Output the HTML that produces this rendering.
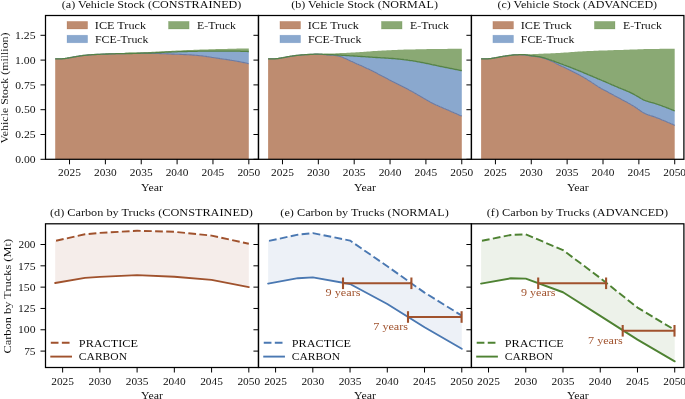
<!DOCTYPE html><html><head><meta charset="utf-8"><style>html,body{margin:0;padding:0;background:#fff;overflow:hidden}svg{display:block}</style></head><body>
<svg width="685" height="399" viewBox="0 0 685 399" font-family="'Liberation Serif', serif" fill="#000">
<style>text{stroke:#fff;stroke-width:0.04px}</style>
<rect width="685" height="399" fill="#fff"/>
<clipPath id="c10"><rect x="45.50" y="15.50" width="213.00" height="143.80"/></clipPath>
<clipPath id="c20"><rect x="45.50" y="223.80" width="213.00" height="143.70"/></clipPath>
<clipPath id="c11"><rect x="258.45" y="15.50" width="213.00" height="143.80"/></clipPath>
<clipPath id="c21"><rect x="258.45" y="223.80" width="213.00" height="143.70"/></clipPath>
<clipPath id="c12"><rect x="471.40" y="15.50" width="213.00" height="143.80"/></clipPath>
<clipPath id="c22"><rect x="471.40" y="223.80" width="213.00" height="143.70"/></clipPath>
<g clip-path="url(#c10)" stroke-width="1.10" stroke-linejoin="round">
<path d="M55.2,58.8 L56.0,58.8 L57.0,58.8 L58.0,58.8 L59.0,58.8 L60.0,58.8 L61.0,58.8 L62.0,58.8 L63.0,58.7 L64.0,58.6 L65.0,58.5 L66.0,58.3 L67.0,58.2 L68.0,58.0 L69.0,57.8 L70.0,57.7 L71.0,57.5 L72.0,57.3 L73.0,57.1 L74.0,56.9 L75.0,56.8 L76.0,56.6 L77.0,56.4 L78.0,56.3 L79.0,56.1 L80.0,55.9 L81.0,55.8 L82.0,55.7 L83.0,55.5 L84.0,55.4 L85.0,55.3 L86.0,55.2 L87.0,55.1 L88.0,55.0 L89.0,54.9 L90.0,54.8 L91.0,54.8 L92.0,54.7 L93.0,54.6 L94.0,54.6 L95.0,54.5 L96.0,54.5 L97.0,54.4 L98.0,54.4 L99.0,54.3 L100.0,54.3 L101.0,54.2 L102.0,54.2 L103.0,54.1 L104.0,54.1 L105.0,54.1 L106.0,54.0 L107.0,54.0 L108.0,54.0 L109.0,53.9 L110.0,53.9 L111.0,53.9 L112.0,53.8 L113.0,53.8 L114.0,53.8 L115.0,53.8 L116.0,53.7 L117.0,53.7 L118.0,53.7 L119.0,53.7 L120.0,53.6 L121.0,53.6 L122.0,53.6 L123.0,53.6 L124.0,53.6 L125.0,53.6 L126.0,53.5 L127.0,53.5 L128.0,53.5 L129.0,53.5 L130.0,53.5 L131.0,53.5 L132.0,53.5 L133.0,53.5 L134.0,53.5 L135.0,53.5 L136.0,53.5 L137.0,53.5 L138.0,53.4 L139.0,53.4 L140.0,53.4 L141.0,53.4 L142.0,53.4 L143.0,53.4 L144.0,53.4 L145.0,53.4 L146.0,53.4 L147.0,53.4 L148.0,53.4 L149.0,53.4 L150.0,53.4 L151.0,53.4 L152.0,53.4 L153.0,53.4 L154.0,53.4 L155.0,53.4 L156.0,53.5 L157.0,53.5 L158.0,53.5 L159.0,53.5 L160.0,53.6 L161.0,53.6 L162.0,53.7 L163.0,53.7 L164.0,53.7 L165.0,53.8 L166.0,53.8 L167.0,53.9 L168.0,53.9 L169.0,54.0 L170.0,54.0 L171.0,54.0 L172.0,54.1 L173.0,54.1 L174.0,54.1 L175.0,54.2 L176.0,54.2 L177.0,54.3 L178.0,54.3 L179.0,54.3 L180.0,54.4 L181.0,54.4 L182.0,54.5 L183.0,54.5 L184.0,54.6 L185.0,54.6 L186.0,54.6 L187.0,54.7 L188.0,54.8 L189.0,54.8 L190.0,54.9 L191.0,54.9 L192.0,55.0 L193.0,55.1 L194.0,55.1 L195.0,55.2 L196.0,55.3 L197.0,55.4 L198.0,55.5 L199.0,55.6 L200.0,55.7 L201.0,55.8 L202.0,55.9 L203.0,56.0 L204.0,56.2 L205.0,56.3 L206.0,56.4 L207.0,56.6 L208.0,56.7 L209.0,56.9 L210.0,57.0 L211.0,57.2 L212.0,57.4 L213.0,57.5 L214.0,57.7 L215.0,57.8 L216.0,58.0 L217.0,58.1 L218.0,58.3 L219.0,58.4 L220.0,58.6 L221.0,58.7 L222.0,58.9 L223.0,59.0 L224.0,59.2 L225.0,59.3 L226.0,59.4 L227.0,59.6 L228.0,59.8 L229.0,59.9 L230.0,60.1 L231.0,60.2 L232.0,60.4 L233.0,60.5 L234.0,60.7 L235.0,60.9 L236.0,61.0 L237.0,61.2 L238.0,61.4 L239.0,61.6 L240.0,61.8 L241.0,62.0 L242.0,62.2 L243.0,62.4 L244.0,62.6 L245.0,62.8 L246.0,63.0 L247.0,63.2 L248.0,63.5 L248.8,63.7 L248.8,159.3 L55.2,159.3 Z" fill="rgb(155,79,35)" fill-opacity="0.65"/>
<path d="M55.2,58.8 L56.0,58.8 L57.0,58.8 L58.0,58.8 L59.0,58.8 L60.0,58.8 L61.0,58.8 L62.0,58.8 L63.0,58.7 L64.0,58.6 L65.0,58.5 L66.0,58.3 L67.0,58.2 L68.0,58.0 L69.0,57.8 L70.0,57.7 L71.0,57.5 L72.0,57.3 L73.0,57.1 L74.0,56.9 L75.0,56.8 L76.0,56.6 L77.0,56.4 L78.0,56.3 L79.0,56.1 L80.0,55.9 L81.0,55.8 L82.0,55.7 L83.0,55.5 L84.0,55.4 L85.0,55.3 L86.0,55.2 L87.0,55.1 L88.0,55.0 L89.0,54.9 L90.0,54.8 L91.0,54.8 L92.0,54.7 L93.0,54.6 L94.0,54.6 L95.0,54.5 L96.0,54.5 L97.0,54.4 L98.0,54.4 L99.0,54.3 L100.0,54.3 L101.0,54.2 L102.0,54.2 L103.0,54.1 L104.0,54.1 L105.0,54.1 L106.0,54.0 L107.0,54.0 L108.0,54.0 L109.0,53.9 L110.0,53.9 L111.0,53.9 L112.0,53.8 L113.0,53.8 L114.0,53.8 L115.0,53.8 L116.0,53.7 L117.0,53.7 L118.0,53.7 L119.0,53.7 L120.0,53.6 L121.0,53.6 L122.0,53.6 L123.0,53.6 L124.0,53.6 L125.0,53.6 L126.0,53.5 L127.0,53.5 L128.0,53.5 L129.0,53.5 L130.0,53.5 L131.0,53.5 L132.0,53.5 L133.0,53.4 L134.0,53.4 L135.0,53.4 L136.0,53.4 L137.0,53.3 L138.0,53.3 L139.0,53.3 L140.0,53.3 L141.0,53.2 L142.0,53.2 L143.0,53.2 L144.0,53.2 L145.0,53.1 L146.0,53.1 L147.0,53.1 L148.0,53.1 L149.0,53.0 L150.0,53.0 L151.0,53.0 L152.0,52.9 L153.0,52.9 L154.0,52.8 L155.0,52.8 L156.0,52.7 L157.0,52.7 L158.0,52.6 L159.0,52.6 L160.0,52.5 L161.0,52.5 L162.0,52.4 L163.0,52.3 L164.0,52.3 L165.0,52.2 L166.0,52.2 L167.0,52.1 L168.0,52.1 L169.0,52.0 L170.0,52.0 L171.0,52.0 L172.0,51.9 L173.0,51.9 L174.0,51.9 L175.0,51.8 L176.0,51.8 L177.0,51.8 L178.0,51.7 L179.0,51.7 L180.0,51.7 L181.0,51.6 L182.0,51.6 L183.0,51.6 L184.0,51.5 L185.0,51.5 L186.0,51.5 L187.0,51.5 L188.0,51.4 L189.0,51.4 L190.0,51.4 L191.0,51.4 L192.0,51.4 L193.0,51.3 L194.0,51.3 L195.0,51.3 L196.0,51.3 L197.0,51.3 L198.0,51.2 L199.0,51.2 L200.0,51.2 L201.0,51.2 L202.0,51.2 L203.0,51.2 L204.0,51.1 L205.0,51.1 L206.0,51.1 L207.0,51.1 L208.0,51.1 L209.0,51.1 L210.0,51.1 L211.0,51.1 L212.0,51.1 L213.0,51.1 L214.0,51.1 L215.0,51.1 L216.0,51.1 L217.0,51.1 L218.0,51.1 L219.0,51.1 L220.0,51.1 L221.0,51.1 L222.0,51.1 L223.0,51.1 L224.0,51.1 L225.0,51.1 L226.0,51.1 L227.0,51.1 L228.0,51.1 L229.0,51.1 L230.0,51.1 L231.0,51.1 L232.0,51.1 L233.0,51.1 L234.0,51.1 L235.0,51.1 L236.0,51.2 L237.0,51.2 L238.0,51.2 L239.0,51.2 L240.0,51.2 L241.0,51.3 L242.0,51.3 L243.0,51.3 L244.0,51.3 L245.0,51.4 L246.0,51.4 L247.0,51.4 L248.0,51.5 L248.8,51.5 L248.8,63.7 L248.0,63.5 L247.0,63.2 L246.0,63.0 L245.0,62.8 L244.0,62.6 L243.0,62.4 L242.0,62.2 L241.0,62.0 L240.0,61.8 L239.0,61.6 L238.0,61.4 L237.0,61.2 L236.0,61.0 L235.0,60.9 L234.0,60.7 L233.0,60.5 L232.0,60.4 L231.0,60.2 L230.0,60.1 L229.0,59.9 L228.0,59.8 L227.0,59.6 L226.0,59.4 L225.0,59.3 L224.0,59.2 L223.0,59.0 L222.0,58.9 L221.0,58.7 L220.0,58.6 L219.0,58.4 L218.0,58.3 L217.0,58.1 L216.0,58.0 L215.0,57.8 L214.0,57.7 L213.0,57.5 L212.0,57.4 L211.0,57.2 L210.0,57.0 L209.0,56.9 L208.0,56.7 L207.0,56.6 L206.0,56.4 L205.0,56.3 L204.0,56.2 L203.0,56.0 L202.0,55.9 L201.0,55.8 L200.0,55.7 L199.0,55.6 L198.0,55.5 L197.0,55.4 L196.0,55.3 L195.0,55.2 L194.0,55.1 L193.0,55.1 L192.0,55.0 L191.0,54.9 L190.0,54.9 L189.0,54.8 L188.0,54.8 L187.0,54.7 L186.0,54.6 L185.0,54.6 L184.0,54.6 L183.0,54.5 L182.0,54.5 L181.0,54.4 L180.0,54.4 L179.0,54.3 L178.0,54.3 L177.0,54.3 L176.0,54.2 L175.0,54.2 L174.0,54.1 L173.0,54.1 L172.0,54.1 L171.0,54.0 L170.0,54.0 L169.0,54.0 L168.0,53.9 L167.0,53.9 L166.0,53.8 L165.0,53.8 L164.0,53.7 L163.0,53.7 L162.0,53.7 L161.0,53.6 L160.0,53.6 L159.0,53.5 L158.0,53.5 L157.0,53.5 L156.0,53.5 L155.0,53.4 L154.0,53.4 L153.0,53.4 L152.0,53.4 L151.0,53.4 L150.0,53.4 L149.0,53.4 L148.0,53.4 L147.0,53.4 L146.0,53.4 L145.0,53.4 L144.0,53.4 L143.0,53.4 L142.0,53.4 L141.0,53.4 L140.0,53.4 L139.0,53.4 L138.0,53.4 L137.0,53.5 L136.0,53.5 L135.0,53.5 L134.0,53.5 L133.0,53.5 L132.0,53.5 L131.0,53.5 L130.0,53.5 L129.0,53.5 L128.0,53.5 L127.0,53.5 L126.0,53.5 L125.0,53.6 L124.0,53.6 L123.0,53.6 L122.0,53.6 L121.0,53.6 L120.0,53.6 L119.0,53.7 L118.0,53.7 L117.0,53.7 L116.0,53.7 L115.0,53.8 L114.0,53.8 L113.0,53.8 L112.0,53.8 L111.0,53.9 L110.0,53.9 L109.0,53.9 L108.0,54.0 L107.0,54.0 L106.0,54.0 L105.0,54.1 L104.0,54.1 L103.0,54.1 L102.0,54.2 L101.0,54.2 L100.0,54.3 L99.0,54.3 L98.0,54.4 L97.0,54.4 L96.0,54.5 L95.0,54.5 L94.0,54.6 L93.0,54.6 L92.0,54.7 L91.0,54.8 L90.0,54.8 L89.0,54.9 L88.0,55.0 L87.0,55.1 L86.0,55.2 L85.0,55.3 L84.0,55.4 L83.0,55.5 L82.0,55.7 L81.0,55.8 L80.0,55.9 L79.0,56.1 L78.0,56.3 L77.0,56.4 L76.0,56.6 L75.0,56.8 L74.0,56.9 L73.0,57.1 L72.0,57.3 L71.0,57.5 L70.0,57.7 L69.0,57.8 L68.0,58.0 L67.0,58.2 L66.0,58.3 L65.0,58.5 L64.0,58.6 L63.0,58.7 L62.0,58.8 L61.0,58.8 L60.0,58.8 L59.0,58.8 L58.0,58.8 L57.0,58.8 L56.0,58.8 L55.2,58.8 Z" fill="rgb(76,121,180)" fill-opacity="0.65"/>
<path d="M55.2,58.8 L56.0,58.8 L57.0,58.8 L58.0,58.8 L59.0,58.8 L60.0,58.8 L61.0,58.8 L62.0,58.8 L63.0,58.7 L64.0,58.6 L65.0,58.5 L66.0,58.3 L67.0,58.2 L68.0,58.0 L69.0,57.8 L70.0,57.7 L71.0,57.5 L72.0,57.3 L73.0,57.1 L74.0,56.9 L75.0,56.8 L76.0,56.6 L77.0,56.4 L78.0,56.3 L79.0,56.1 L80.0,55.9 L81.0,55.8 L82.0,55.7 L83.0,55.5 L84.0,55.4 L85.0,55.3 L86.0,55.2 L87.0,55.1 L88.0,55.0 L89.0,54.9 L90.0,54.8 L91.0,54.8 L92.0,54.7 L93.0,54.6 L94.0,54.6 L95.0,54.5 L96.0,54.5 L97.0,54.4 L98.0,54.4 L99.0,54.3 L100.0,54.3 L101.0,54.2 L102.0,54.2 L103.0,54.1 L104.0,54.1 L105.0,54.0 L106.0,54.0 L107.0,53.9 L108.0,53.9 L109.0,53.8 L110.0,53.8 L111.0,53.7 L112.0,53.6 L113.0,53.6 L114.0,53.5 L115.0,53.4 L116.0,53.4 L117.0,53.3 L118.0,53.3 L119.0,53.2 L120.0,53.1 L121.0,53.1 L122.0,53.0 L123.0,53.0 L124.0,52.9 L125.0,52.8 L126.0,52.8 L127.0,52.7 L128.0,52.7 L129.0,52.6 L130.0,52.6 L131.0,52.6 L132.0,52.5 L133.0,52.5 L134.0,52.4 L135.0,52.4 L136.0,52.4 L137.0,52.3 L138.0,52.3 L139.0,52.3 L140.0,52.2 L141.0,52.2 L142.0,52.2 L143.0,52.2 L144.0,52.1 L145.0,52.1 L146.0,52.1 L147.0,52.0 L148.0,52.0 L149.0,51.9 L150.0,51.9 L151.0,51.9 L152.0,51.8 L153.0,51.8 L154.0,51.7 L155.0,51.7 L156.0,51.6 L157.0,51.6 L158.0,51.5 L159.0,51.5 L160.0,51.4 L161.0,51.4 L162.0,51.3 L163.0,51.3 L164.0,51.2 L165.0,51.2 L166.0,51.1 L167.0,51.0 L168.0,51.0 L169.0,50.9 L170.0,50.9 L171.0,50.9 L172.0,50.8 L173.0,50.8 L174.0,50.7 L175.0,50.7 L176.0,50.6 L177.0,50.6 L178.0,50.5 L179.0,50.5 L180.0,50.4 L181.0,50.4 L182.0,50.3 L183.0,50.3 L184.0,50.3 L185.0,50.2 L186.0,50.2 L187.0,50.1 L188.0,50.1 L189.0,50.0 L190.0,50.0 L191.0,50.0 L192.0,49.9 L193.0,49.9 L194.0,49.8 L195.0,49.8 L196.0,49.8 L197.0,49.7 L198.0,49.7 L199.0,49.7 L200.0,49.6 L201.0,49.6 L202.0,49.6 L203.0,49.5 L204.0,49.5 L205.0,49.5 L206.0,49.4 L207.0,49.4 L208.0,49.4 L209.0,49.3 L210.0,49.3 L211.0,49.3 L212.0,49.2 L213.0,49.2 L214.0,49.2 L215.0,49.2 L216.0,49.1 L217.0,49.1 L218.0,49.1 L219.0,49.1 L220.0,49.0 L221.0,49.0 L222.0,49.0 L223.0,49.0 L224.0,48.9 L225.0,48.9 L226.0,48.9 L227.0,48.9 L228.0,48.8 L229.0,48.8 L230.0,48.8 L231.0,48.8 L232.0,48.8 L233.0,48.7 L234.0,48.7 L235.0,48.7 L236.0,48.7 L237.0,48.6 L238.0,48.6 L239.0,48.6 L240.0,48.6 L241.0,48.6 L242.0,48.5 L243.0,48.5 L244.0,48.5 L245.0,48.5 L246.0,48.5 L247.0,48.4 L248.0,48.4 L248.8,48.4 L248.8,51.5 L248.0,51.5 L247.0,51.4 L246.0,51.4 L245.0,51.4 L244.0,51.3 L243.0,51.3 L242.0,51.3 L241.0,51.3 L240.0,51.2 L239.0,51.2 L238.0,51.2 L237.0,51.2 L236.0,51.2 L235.0,51.1 L234.0,51.1 L233.0,51.1 L232.0,51.1 L231.0,51.1 L230.0,51.1 L229.0,51.1 L228.0,51.1 L227.0,51.1 L226.0,51.1 L225.0,51.1 L224.0,51.1 L223.0,51.1 L222.0,51.1 L221.0,51.1 L220.0,51.1 L219.0,51.1 L218.0,51.1 L217.0,51.1 L216.0,51.1 L215.0,51.1 L214.0,51.1 L213.0,51.1 L212.0,51.1 L211.0,51.1 L210.0,51.1 L209.0,51.1 L208.0,51.1 L207.0,51.1 L206.0,51.1 L205.0,51.1 L204.0,51.1 L203.0,51.2 L202.0,51.2 L201.0,51.2 L200.0,51.2 L199.0,51.2 L198.0,51.2 L197.0,51.3 L196.0,51.3 L195.0,51.3 L194.0,51.3 L193.0,51.3 L192.0,51.4 L191.0,51.4 L190.0,51.4 L189.0,51.4 L188.0,51.4 L187.0,51.5 L186.0,51.5 L185.0,51.5 L184.0,51.5 L183.0,51.6 L182.0,51.6 L181.0,51.6 L180.0,51.7 L179.0,51.7 L178.0,51.7 L177.0,51.8 L176.0,51.8 L175.0,51.8 L174.0,51.9 L173.0,51.9 L172.0,51.9 L171.0,52.0 L170.0,52.0 L169.0,52.0 L168.0,52.1 L167.0,52.1 L166.0,52.2 L165.0,52.2 L164.0,52.3 L163.0,52.3 L162.0,52.4 L161.0,52.5 L160.0,52.5 L159.0,52.6 L158.0,52.6 L157.0,52.7 L156.0,52.7 L155.0,52.8 L154.0,52.8 L153.0,52.9 L152.0,52.9 L151.0,53.0 L150.0,53.0 L149.0,53.0 L148.0,53.1 L147.0,53.1 L146.0,53.1 L145.0,53.1 L144.0,53.2 L143.0,53.2 L142.0,53.2 L141.0,53.2 L140.0,53.3 L139.0,53.3 L138.0,53.3 L137.0,53.3 L136.0,53.4 L135.0,53.4 L134.0,53.4 L133.0,53.4 L132.0,53.5 L131.0,53.5 L130.0,53.5 L129.0,53.5 L128.0,53.5 L127.0,53.5 L126.0,53.5 L125.0,53.6 L124.0,53.6 L123.0,53.6 L122.0,53.6 L121.0,53.6 L120.0,53.6 L119.0,53.7 L118.0,53.7 L117.0,53.7 L116.0,53.7 L115.0,53.8 L114.0,53.8 L113.0,53.8 L112.0,53.8 L111.0,53.9 L110.0,53.9 L109.0,53.9 L108.0,54.0 L107.0,54.0 L106.0,54.0 L105.0,54.1 L104.0,54.1 L103.0,54.1 L102.0,54.2 L101.0,54.2 L100.0,54.3 L99.0,54.3 L98.0,54.4 L97.0,54.4 L96.0,54.5 L95.0,54.5 L94.0,54.6 L93.0,54.6 L92.0,54.7 L91.0,54.8 L90.0,54.8 L89.0,54.9 L88.0,55.0 L87.0,55.1 L86.0,55.2 L85.0,55.3 L84.0,55.4 L83.0,55.5 L82.0,55.7 L81.0,55.8 L80.0,55.9 L79.0,56.1 L78.0,56.3 L77.0,56.4 L76.0,56.6 L75.0,56.8 L74.0,56.9 L73.0,57.1 L72.0,57.3 L71.0,57.5 L70.0,57.7 L69.0,57.8 L68.0,58.0 L67.0,58.2 L66.0,58.3 L65.0,58.5 L64.0,58.6 L63.0,58.7 L62.0,58.8 L61.0,58.8 L60.0,58.8 L59.0,58.8 L58.0,58.8 L57.0,58.8 L56.0,58.8 L55.2,58.8 Z" fill="rgb(76,123,42)" fill-opacity="0.65"/>
<path d="M55.2,58.8 L56.0,58.8 L57.0,58.8 L58.0,58.8 L59.0,58.8 L60.0,58.8 L61.0,58.8 L62.0,58.8 L63.0,58.7 L64.0,58.6 L65.0,58.5 L66.0,58.3 L67.0,58.2 L68.0,58.0 L69.0,57.8 L70.0,57.7 L71.0,57.5 L72.0,57.3 L73.0,57.1 L74.0,56.9 L75.0,56.8 L76.0,56.6 L77.0,56.4 L78.0,56.3 L79.0,56.1 L80.0,55.9 L81.0,55.8 L82.0,55.7 L83.0,55.5 L84.0,55.4 L85.0,55.3 L86.0,55.2 L87.0,55.1 L88.0,55.0 L89.0,54.9 L90.0,54.8 L91.0,54.8 L92.0,54.7 L93.0,54.6 L94.0,54.6 L95.0,54.5 L96.0,54.5 L97.0,54.4 L98.0,54.4 L99.0,54.3 L100.0,54.3 L101.0,54.2 L102.0,54.2 L103.0,54.1 L104.0,54.1 L105.0,54.1 L106.0,54.0 L107.0,54.0 L108.0,54.0 L109.0,53.9 L110.0,53.9 L111.0,53.9 L112.0,53.8 L113.0,53.8 L114.0,53.8 L115.0,53.8 L116.0,53.7 L117.0,53.7 L118.0,53.7 L119.0,53.7 L120.0,53.6 L121.0,53.6 L122.0,53.6 L123.0,53.6 L124.0,53.6 L125.0,53.6 L126.0,53.5 L127.0,53.5 L128.0,53.5 L129.0,53.5 L130.0,53.5 L131.0,53.5 L132.0,53.5 L133.0,53.5 L134.0,53.5 L135.0,53.5 L136.0,53.5 L137.0,53.5 L138.0,53.4 L139.0,53.4 L140.0,53.4 L141.0,53.4 L142.0,53.4 L143.0,53.4 L144.0,53.4 L145.0,53.4 L146.0,53.4 L147.0,53.4 L148.0,53.4 L149.0,53.4 L150.0,53.4 L151.0,53.4 L152.0,53.4 L153.0,53.4 L154.0,53.4 L155.0,53.4 L156.0,53.5 L157.0,53.5 L158.0,53.5 L159.0,53.5 L160.0,53.6 L161.0,53.6 L162.0,53.7 L163.0,53.7 L164.0,53.7 L165.0,53.8 L166.0,53.8 L167.0,53.9 L168.0,53.9 L169.0,54.0 L170.0,54.0 L171.0,54.0 L172.0,54.1 L173.0,54.1 L174.0,54.1 L175.0,54.2 L176.0,54.2 L177.0,54.3 L178.0,54.3 L179.0,54.3 L180.0,54.4 L181.0,54.4 L182.0,54.5 L183.0,54.5 L184.0,54.6 L185.0,54.6 L186.0,54.6 L187.0,54.7 L188.0,54.8 L189.0,54.8 L190.0,54.9 L191.0,54.9 L192.0,55.0 L193.0,55.1 L194.0,55.1 L195.0,55.2 L196.0,55.3 L197.0,55.4 L198.0,55.5 L199.0,55.6 L200.0,55.7 L201.0,55.8 L202.0,55.9 L203.0,56.0 L204.0,56.2 L205.0,56.3 L206.0,56.4 L207.0,56.6 L208.0,56.7 L209.0,56.9 L210.0,57.0 L211.0,57.2 L212.0,57.4 L213.0,57.5 L214.0,57.7 L215.0,57.8 L216.0,58.0 L217.0,58.1 L218.0,58.3 L219.0,58.4 L220.0,58.6 L221.0,58.7 L222.0,58.9 L223.0,59.0 L224.0,59.2 L225.0,59.3 L226.0,59.4 L227.0,59.6 L228.0,59.8 L229.0,59.9 L230.0,60.1 L231.0,60.2 L232.0,60.4 L233.0,60.5 L234.0,60.7 L235.0,60.9 L236.0,61.0 L237.0,61.2 L238.0,61.4 L239.0,61.6 L240.0,61.8 L241.0,62.0 L242.0,62.2 L243.0,62.4 L244.0,62.6 L245.0,62.8 L246.0,63.0 L247.0,63.2 L248.0,63.5 L248.8,63.7" fill="none" stroke="rgb(108,122,162)"/>
<path d="M55.2,58.8 L56.0,58.8 L57.0,58.8 L58.0,58.8 L59.0,58.8 L60.0,58.8 L61.0,58.8 L62.0,58.8 L63.0,58.7 L64.0,58.6 L65.0,58.5 L66.0,58.3 L67.0,58.2 L68.0,58.0 L69.0,57.8 L70.0,57.7 L71.0,57.5 L72.0,57.3 L73.0,57.1 L74.0,56.9 L75.0,56.8 L76.0,56.6 L77.0,56.4 L78.0,56.3 L79.0,56.1 L80.0,55.9 L81.0,55.8 L82.0,55.7 L83.0,55.5 L84.0,55.4 L85.0,55.3 L86.0,55.2 L87.0,55.1 L88.0,55.0 L89.0,54.9 L90.0,54.8 L91.0,54.8 L92.0,54.7 L93.0,54.6 L94.0,54.6 L95.0,54.5 L96.0,54.5 L97.0,54.4 L98.0,54.4 L99.0,54.3 L100.0,54.3 L101.0,54.2 L102.0,54.2 L103.0,54.1 L104.0,54.1 L105.0,54.1 L106.0,54.0 L107.0,54.0 L108.0,54.0 L109.0,53.9 L110.0,53.9 L111.0,53.9 L112.0,53.8 L113.0,53.8 L114.0,53.8 L115.0,53.8 L116.0,53.7 L117.0,53.7 L118.0,53.7 L119.0,53.7 L120.0,53.6 L121.0,53.6 L122.0,53.6 L123.0,53.6 L124.0,53.6 L125.0,53.6 L126.0,53.5 L127.0,53.5 L128.0,53.5 L129.0,53.5 L130.0,53.5 L131.0,53.5 L132.0,53.5 L133.0,53.4 L134.0,53.4 L135.0,53.4 L136.0,53.4 L137.0,53.3 L138.0,53.3 L139.0,53.3 L140.0,53.3 L141.0,53.2 L142.0,53.2 L143.0,53.2 L144.0,53.2 L145.0,53.1 L146.0,53.1 L147.0,53.1 L148.0,53.1 L149.0,53.0 L150.0,53.0 L151.0,53.0 L152.0,52.9 L153.0,52.9 L154.0,52.8 L155.0,52.8 L156.0,52.7 L157.0,52.7 L158.0,52.6 L159.0,52.6 L160.0,52.5 L161.0,52.5 L162.0,52.4 L163.0,52.3 L164.0,52.3 L165.0,52.2 L166.0,52.2 L167.0,52.1 L168.0,52.1 L169.0,52.0 L170.0,52.0 L171.0,52.0 L172.0,51.9 L173.0,51.9 L174.0,51.9 L175.0,51.8 L176.0,51.8 L177.0,51.8 L178.0,51.7 L179.0,51.7 L180.0,51.7 L181.0,51.6 L182.0,51.6 L183.0,51.6 L184.0,51.5 L185.0,51.5 L186.0,51.5 L187.0,51.5 L188.0,51.4 L189.0,51.4 L190.0,51.4 L191.0,51.4 L192.0,51.4 L193.0,51.3 L194.0,51.3 L195.0,51.3 L196.0,51.3 L197.0,51.3 L198.0,51.2 L199.0,51.2 L200.0,51.2 L201.0,51.2 L202.0,51.2 L203.0,51.2 L204.0,51.1 L205.0,51.1 L206.0,51.1 L207.0,51.1 L208.0,51.1 L209.0,51.1 L210.0,51.1 L211.0,51.1 L212.0,51.1 L213.0,51.1 L214.0,51.1 L215.0,51.1 L216.0,51.1 L217.0,51.1 L218.0,51.1 L219.0,51.1 L220.0,51.1 L221.0,51.1 L222.0,51.1 L223.0,51.1 L224.0,51.1 L225.0,51.1 L226.0,51.1 L227.0,51.1 L228.0,51.1 L229.0,51.1 L230.0,51.1 L231.0,51.1 L232.0,51.1 L233.0,51.1 L234.0,51.1 L235.0,51.1 L236.0,51.2 L237.0,51.2 L238.0,51.2 L239.0,51.2 L240.0,51.2 L241.0,51.3 L242.0,51.3 L243.0,51.3 L244.0,51.3 L245.0,51.4 L246.0,51.4 L247.0,51.4 L248.0,51.5 L248.8,51.5" fill="none" stroke="rgb(84,130,70)" stroke-width="1.3"/>
</g>
<g clip-path="url(#c11)" stroke-width="1.10" stroke-linejoin="round">
<path d="M268.1,58.8 L269.0,58.8 L270.0,58.8 L271.0,58.8 L272.0,58.8 L273.0,58.8 L274.0,58.8 L275.0,58.8 L276.0,58.7 L277.0,58.6 L278.0,58.5 L279.0,58.3 L280.0,58.1 L281.0,58.0 L282.0,57.8 L283.0,57.7 L284.0,57.5 L285.0,57.3 L286.0,57.1 L287.0,56.9 L288.0,56.7 L289.0,56.6 L290.0,56.4 L291.0,56.2 L292.0,56.1 L293.0,55.9 L294.0,55.8 L295.0,55.6 L296.0,55.5 L297.0,55.4 L298.0,55.3 L299.0,55.2 L300.0,55.1 L301.0,55.0 L302.0,54.9 L303.0,54.8 L304.0,54.8 L305.0,54.7 L306.0,54.6 L307.0,54.6 L308.0,54.5 L309.0,54.5 L310.0,54.4 L311.0,54.4 L312.0,54.3 L313.0,54.3 L314.0,54.2 L315.0,54.1 L316.0,54.1 L317.0,54.1 L318.0,54.1 L319.0,54.2 L320.0,54.2 L321.0,54.3 L322.0,54.4 L323.0,54.5 L324.0,54.6 L325.0,54.7 L326.0,54.8 L327.0,54.9 L328.0,55.0 L329.0,55.0 L330.0,55.1 L331.0,55.1 L332.0,55.2 L333.0,55.2 L334.0,55.3 L335.0,55.4 L336.0,55.6 L337.0,55.7 L338.0,55.9 L339.0,56.2 L340.0,56.4 L341.0,56.7 L342.0,57.1 L343.0,57.5 L344.0,58.0 L345.0,58.4 L346.0,58.8 L347.0,59.3 L348.0,59.8 L349.0,60.2 L350.0,60.7 L351.0,61.2 L352.0,61.6 L353.0,62.1 L354.0,62.5 L355.0,63.0 L356.0,63.4 L357.0,63.9 L358.0,64.3 L359.0,64.8 L360.0,65.2 L361.0,65.6 L362.0,66.1 L363.0,66.5 L364.0,67.0 L365.0,67.4 L366.0,67.9 L367.0,68.4 L368.0,68.8 L369.0,69.3 L370.0,69.8 L371.0,70.2 L372.0,70.7 L373.0,71.2 L374.0,71.8 L375.0,72.3 L376.0,72.8 L377.0,73.3 L378.0,73.9 L379.0,74.4 L380.0,74.9 L381.0,75.4 L382.0,76.0 L383.0,76.5 L384.0,77.0 L385.0,77.5 L386.0,78.1 L387.0,78.6 L388.0,79.1 L389.0,79.7 L390.0,80.2 L391.0,80.7 L392.0,81.3 L393.0,81.8 L394.0,82.3 L395.0,82.8 L396.0,83.3 L397.0,83.8 L398.0,84.3 L399.0,84.8 L400.0,85.3 L401.0,85.8 L402.0,86.3 L403.0,86.8 L404.0,87.3 L405.0,87.8 L406.0,88.3 L407.0,88.8 L408.0,89.3 L409.0,89.9 L410.0,90.4 L411.0,90.9 L412.0,91.5 L413.0,92.0 L414.0,92.6 L415.0,93.2 L416.0,93.8 L417.0,94.4 L418.0,95.0 L419.0,95.6 L420.0,96.1 L421.0,96.7 L422.0,97.3 L423.0,97.9 L424.0,98.5 L425.0,99.1 L426.0,99.6 L427.0,100.2 L428.0,100.8 L429.0,101.3 L430.0,101.9 L431.0,102.4 L432.0,102.9 L433.0,103.4 L434.0,103.9 L435.0,104.4 L436.0,104.9 L437.0,105.3 L438.0,105.8 L439.0,106.2 L440.0,106.7 L441.0,107.1 L442.0,107.5 L443.0,107.9 L444.0,108.4 L445.0,108.8 L446.0,109.3 L447.0,109.7 L448.0,110.1 L449.0,110.6 L450.0,111.0 L451.0,111.5 L452.0,111.9 L453.0,112.3 L454.0,112.8 L455.0,113.2 L456.0,113.6 L457.0,114.1 L458.0,114.5 L459.0,114.9 L460.0,115.4 L461.0,115.8 L461.8,116.1 L461.8,159.3 L268.1,159.3 Z" fill="rgb(155,79,35)" fill-opacity="0.65"/>
<path d="M268.1,58.8 L269.0,58.8 L270.0,58.8 L271.0,58.8 L272.0,58.8 L273.0,58.8 L274.0,58.8 L275.0,58.8 L276.0,58.7 L277.0,58.6 L278.0,58.5 L279.0,58.3 L280.0,58.1 L281.0,58.0 L282.0,57.8 L283.0,57.7 L284.0,57.5 L285.0,57.3 L286.0,57.1 L287.0,56.9 L288.0,56.7 L289.0,56.6 L290.0,56.4 L291.0,56.2 L292.0,56.1 L293.0,55.9 L294.0,55.8 L295.0,55.6 L296.0,55.5 L297.0,55.4 L298.0,55.3 L299.0,55.2 L300.0,55.1 L301.0,55.0 L302.0,54.9 L303.0,54.8 L304.0,54.8 L305.0,54.7 L306.0,54.6 L307.0,54.6 L308.0,54.5 L309.0,54.5 L310.0,54.4 L311.0,54.4 L312.0,54.3 L313.0,54.3 L314.0,54.2 L315.0,54.1 L316.0,54.1 L317.0,54.1 L318.0,54.1 L319.0,54.1 L320.0,54.1 L321.0,54.2 L322.0,54.2 L323.0,54.3 L324.0,54.3 L325.0,54.3 L326.0,54.4 L327.0,54.5 L328.0,54.5 L329.0,54.6 L330.0,54.6 L331.0,54.6 L332.0,54.7 L333.0,54.7 L334.0,54.8 L335.0,54.9 L336.0,54.9 L337.0,55.0 L338.0,55.0 L339.0,55.1 L340.0,55.1 L341.0,55.2 L342.0,55.3 L343.0,55.3 L344.0,55.4 L345.0,55.4 L346.0,55.5 L347.0,55.6 L348.0,55.6 L349.0,55.7 L350.0,55.8 L351.0,55.8 L352.0,55.9 L353.0,55.9 L354.0,56.0 L355.0,56.1 L356.0,56.1 L357.0,56.2 L358.0,56.3 L359.0,56.3 L360.0,56.4 L361.0,56.5 L362.0,56.5 L363.0,56.6 L364.0,56.7 L365.0,56.7 L366.0,56.8 L367.0,56.9 L368.0,56.9 L369.0,57.0 L370.0,57.1 L371.0,57.1 L372.0,57.2 L373.0,57.3 L374.0,57.3 L375.0,57.4 L376.0,57.5 L377.0,57.5 L378.0,57.6 L379.0,57.6 L380.0,57.7 L381.0,57.8 L382.0,57.8 L383.0,57.9 L384.0,57.9 L385.0,58.0 L386.0,58.1 L387.0,58.1 L388.0,58.2 L389.0,58.3 L390.0,58.3 L391.0,58.4 L392.0,58.5 L393.0,58.5 L394.0,58.6 L395.0,58.7 L396.0,58.8 L397.0,58.9 L398.0,59.0 L399.0,59.1 L400.0,59.2 L401.0,59.3 L402.0,59.4 L403.0,59.5 L404.0,59.7 L405.0,59.8 L406.0,59.9 L407.0,60.0 L408.0,60.2 L409.0,60.3 L410.0,60.5 L411.0,60.6 L412.0,60.7 L413.0,60.9 L414.0,61.1 L415.0,61.2 L416.0,61.4 L417.0,61.6 L418.0,61.8 L419.0,61.9 L420.0,62.1 L421.0,62.3 L422.0,62.5 L423.0,62.7 L424.0,62.9 L425.0,63.1 L426.0,63.3 L427.0,63.5 L428.0,63.7 L429.0,63.9 L430.0,64.1 L431.0,64.3 L432.0,64.6 L433.0,64.8 L434.0,65.0 L435.0,65.2 L436.0,65.4 L437.0,65.7 L438.0,65.9 L439.0,66.1 L440.0,66.3 L441.0,66.5 L442.0,66.7 L443.0,66.9 L444.0,67.1 L445.0,67.3 L446.0,67.5 L447.0,67.7 L448.0,67.9 L449.0,68.1 L450.0,68.3 L451.0,68.5 L452.0,68.7 L453.0,68.9 L454.0,69.1 L455.0,69.3 L456.0,69.5 L457.0,69.7 L458.0,69.9 L459.0,70.1 L460.0,70.3 L461.0,70.5 L461.8,70.7 L461.8,116.1 L461.0,115.8 L460.0,115.4 L459.0,114.9 L458.0,114.5 L457.0,114.1 L456.0,113.6 L455.0,113.2 L454.0,112.8 L453.0,112.3 L452.0,111.9 L451.0,111.5 L450.0,111.0 L449.0,110.6 L448.0,110.1 L447.0,109.7 L446.0,109.3 L445.0,108.8 L444.0,108.4 L443.0,107.9 L442.0,107.5 L441.0,107.1 L440.0,106.7 L439.0,106.2 L438.0,105.8 L437.0,105.3 L436.0,104.9 L435.0,104.4 L434.0,103.9 L433.0,103.4 L432.0,102.9 L431.0,102.4 L430.0,101.9 L429.0,101.3 L428.0,100.8 L427.0,100.2 L426.0,99.6 L425.0,99.1 L424.0,98.5 L423.0,97.9 L422.0,97.3 L421.0,96.7 L420.0,96.1 L419.0,95.6 L418.0,95.0 L417.0,94.4 L416.0,93.8 L415.0,93.2 L414.0,92.6 L413.0,92.0 L412.0,91.5 L411.0,90.9 L410.0,90.4 L409.0,89.9 L408.0,89.3 L407.0,88.8 L406.0,88.3 L405.0,87.8 L404.0,87.3 L403.0,86.8 L402.0,86.3 L401.0,85.8 L400.0,85.3 L399.0,84.8 L398.0,84.3 L397.0,83.8 L396.0,83.3 L395.0,82.8 L394.0,82.3 L393.0,81.8 L392.0,81.3 L391.0,80.7 L390.0,80.2 L389.0,79.7 L388.0,79.1 L387.0,78.6 L386.0,78.1 L385.0,77.5 L384.0,77.0 L383.0,76.5 L382.0,76.0 L381.0,75.4 L380.0,74.9 L379.0,74.4 L378.0,73.9 L377.0,73.3 L376.0,72.8 L375.0,72.3 L374.0,71.8 L373.0,71.2 L372.0,70.7 L371.0,70.2 L370.0,69.8 L369.0,69.3 L368.0,68.8 L367.0,68.4 L366.0,67.9 L365.0,67.4 L364.0,67.0 L363.0,66.5 L362.0,66.1 L361.0,65.6 L360.0,65.2 L359.0,64.8 L358.0,64.3 L357.0,63.9 L356.0,63.4 L355.0,63.0 L354.0,62.5 L353.0,62.1 L352.0,61.6 L351.0,61.2 L350.0,60.7 L349.0,60.2 L348.0,59.8 L347.0,59.3 L346.0,58.8 L345.0,58.4 L344.0,58.0 L343.0,57.5 L342.0,57.1 L341.0,56.7 L340.0,56.4 L339.0,56.2 L338.0,55.9 L337.0,55.7 L336.0,55.6 L335.0,55.4 L334.0,55.3 L333.0,55.2 L332.0,55.2 L331.0,55.1 L330.0,55.1 L329.0,55.0 L328.0,55.0 L327.0,54.9 L326.0,54.8 L325.0,54.7 L324.0,54.6 L323.0,54.5 L322.0,54.4 L321.0,54.3 L320.0,54.2 L319.0,54.2 L318.0,54.1 L317.0,54.1 L316.0,54.1 L315.0,54.1 L314.0,54.2 L313.0,54.3 L312.0,54.3 L311.0,54.4 L310.0,54.4 L309.0,54.5 L308.0,54.5 L307.0,54.6 L306.0,54.6 L305.0,54.7 L304.0,54.8 L303.0,54.8 L302.0,54.9 L301.0,55.0 L300.0,55.1 L299.0,55.2 L298.0,55.3 L297.0,55.4 L296.0,55.5 L295.0,55.6 L294.0,55.8 L293.0,55.9 L292.0,56.1 L291.0,56.2 L290.0,56.4 L289.0,56.6 L288.0,56.7 L287.0,56.9 L286.0,57.1 L285.0,57.3 L284.0,57.5 L283.0,57.7 L282.0,57.8 L281.0,58.0 L280.0,58.1 L279.0,58.3 L278.0,58.5 L277.0,58.6 L276.0,58.7 L275.0,58.8 L274.0,58.8 L273.0,58.8 L272.0,58.8 L271.0,58.8 L270.0,58.8 L269.0,58.8 L268.1,58.8 Z" fill="rgb(76,121,180)" fill-opacity="0.65"/>
<path d="M268.1,58.8 L269.0,58.8 L270.0,58.8 L271.0,58.8 L272.0,58.8 L273.0,58.8 L274.0,58.8 L275.0,58.8 L276.0,58.7 L277.0,58.6 L278.0,58.5 L279.0,58.3 L280.0,58.1 L281.0,58.0 L282.0,57.8 L283.0,57.7 L284.0,57.5 L285.0,57.3 L286.0,57.1 L287.0,56.9 L288.0,56.7 L289.0,56.6 L290.0,56.4 L291.0,56.2 L292.0,56.1 L293.0,55.9 L294.0,55.8 L295.0,55.6 L296.0,55.5 L297.0,55.4 L298.0,55.3 L299.0,55.2 L300.0,55.1 L301.0,55.0 L302.0,54.9 L303.0,54.8 L304.0,54.8 L305.0,54.7 L306.0,54.6 L307.0,54.6 L308.0,54.5 L309.0,54.5 L310.0,54.4 L311.0,54.4 L312.0,54.3 L313.0,54.3 L314.0,54.2 L315.0,54.1 L316.0,54.1 L317.0,54.1 L318.0,54.1 L319.0,54.0 L320.0,54.0 L321.0,53.9 L322.0,53.9 L323.0,53.9 L324.0,53.8 L325.0,53.8 L326.0,53.8 L327.0,53.7 L328.0,53.7 L329.0,53.6 L330.0,53.6 L331.0,53.6 L332.0,53.5 L333.0,53.5 L334.0,53.4 L335.0,53.4 L336.0,53.3 L337.0,53.3 L338.0,53.2 L339.0,53.2 L340.0,53.1 L341.0,53.1 L342.0,53.0 L343.0,53.0 L344.0,52.9 L345.0,52.9 L346.0,52.9 L347.0,52.8 L348.0,52.8 L349.0,52.7 L350.0,52.7 L351.0,52.6 L352.0,52.5 L353.0,52.5 L354.0,52.4 L355.0,52.4 L356.0,52.3 L357.0,52.3 L358.0,52.2 L359.0,52.2 L360.0,52.1 L361.0,52.0 L362.0,52.0 L363.0,51.9 L364.0,51.8 L365.0,51.7 L366.0,51.7 L367.0,51.6 L368.0,51.5 L369.0,51.4 L370.0,51.4 L371.0,51.3 L372.0,51.2 L373.0,51.1 L374.0,51.1 L375.0,51.0 L376.0,50.9 L377.0,50.9 L378.0,50.8 L379.0,50.8 L380.0,50.7 L381.0,50.7 L382.0,50.6 L383.0,50.5 L384.0,50.5 L385.0,50.4 L386.0,50.4 L387.0,50.3 L388.0,50.3 L389.0,50.2 L390.0,50.2 L391.0,50.2 L392.0,50.1 L393.0,50.1 L394.0,50.0 L395.0,50.0 L396.0,49.9 L397.0,49.9 L398.0,49.8 L399.0,49.8 L400.0,49.8 L401.0,49.7 L402.0,49.7 L403.0,49.7 L404.0,49.6 L405.0,49.6 L406.0,49.6 L407.0,49.5 L408.0,49.5 L409.0,49.5 L410.0,49.5 L411.0,49.4 L412.0,49.4 L413.0,49.4 L414.0,49.4 L415.0,49.4 L416.0,49.3 L417.0,49.3 L418.0,49.3 L419.0,49.3 L420.0,49.3 L421.0,49.2 L422.0,49.2 L423.0,49.2 L424.0,49.2 L425.0,49.2 L426.0,49.2 L427.0,49.1 L428.0,49.1 L429.0,49.1 L430.0,49.1 L431.0,49.1 L432.0,49.1 L433.0,49.1 L434.0,49.0 L435.0,49.0 L436.0,49.0 L437.0,49.0 L438.0,49.0 L439.0,49.0 L440.0,49.0 L441.0,48.9 L442.0,48.9 L443.0,48.9 L444.0,48.9 L445.0,48.9 L446.0,48.9 L447.0,48.9 L448.0,48.8 L449.0,48.8 L450.0,48.8 L451.0,48.8 L452.0,48.8 L453.0,48.8 L454.0,48.8 L455.0,48.8 L456.0,48.8 L457.0,48.7 L458.0,48.7 L459.0,48.7 L460.0,48.7 L461.0,48.7 L461.8,48.7 L461.8,70.7 L461.0,70.5 L460.0,70.3 L459.0,70.1 L458.0,69.9 L457.0,69.7 L456.0,69.5 L455.0,69.3 L454.0,69.1 L453.0,68.9 L452.0,68.7 L451.0,68.5 L450.0,68.3 L449.0,68.1 L448.0,67.9 L447.0,67.7 L446.0,67.5 L445.0,67.3 L444.0,67.1 L443.0,66.9 L442.0,66.7 L441.0,66.5 L440.0,66.3 L439.0,66.1 L438.0,65.9 L437.0,65.7 L436.0,65.4 L435.0,65.2 L434.0,65.0 L433.0,64.8 L432.0,64.6 L431.0,64.3 L430.0,64.1 L429.0,63.9 L428.0,63.7 L427.0,63.5 L426.0,63.3 L425.0,63.1 L424.0,62.9 L423.0,62.7 L422.0,62.5 L421.0,62.3 L420.0,62.1 L419.0,61.9 L418.0,61.8 L417.0,61.6 L416.0,61.4 L415.0,61.2 L414.0,61.1 L413.0,60.9 L412.0,60.7 L411.0,60.6 L410.0,60.5 L409.0,60.3 L408.0,60.2 L407.0,60.0 L406.0,59.9 L405.0,59.8 L404.0,59.7 L403.0,59.5 L402.0,59.4 L401.0,59.3 L400.0,59.2 L399.0,59.1 L398.0,59.0 L397.0,58.9 L396.0,58.8 L395.0,58.7 L394.0,58.6 L393.0,58.5 L392.0,58.5 L391.0,58.4 L390.0,58.3 L389.0,58.3 L388.0,58.2 L387.0,58.1 L386.0,58.1 L385.0,58.0 L384.0,57.9 L383.0,57.9 L382.0,57.8 L381.0,57.8 L380.0,57.7 L379.0,57.6 L378.0,57.6 L377.0,57.5 L376.0,57.5 L375.0,57.4 L374.0,57.3 L373.0,57.3 L372.0,57.2 L371.0,57.1 L370.0,57.1 L369.0,57.0 L368.0,56.9 L367.0,56.9 L366.0,56.8 L365.0,56.7 L364.0,56.7 L363.0,56.6 L362.0,56.5 L361.0,56.5 L360.0,56.4 L359.0,56.3 L358.0,56.3 L357.0,56.2 L356.0,56.1 L355.0,56.1 L354.0,56.0 L353.0,55.9 L352.0,55.9 L351.0,55.8 L350.0,55.8 L349.0,55.7 L348.0,55.6 L347.0,55.6 L346.0,55.5 L345.0,55.4 L344.0,55.4 L343.0,55.3 L342.0,55.3 L341.0,55.2 L340.0,55.1 L339.0,55.1 L338.0,55.0 L337.0,55.0 L336.0,54.9 L335.0,54.9 L334.0,54.8 L333.0,54.7 L332.0,54.7 L331.0,54.6 L330.0,54.6 L329.0,54.6 L328.0,54.5 L327.0,54.5 L326.0,54.4 L325.0,54.3 L324.0,54.3 L323.0,54.3 L322.0,54.2 L321.0,54.2 L320.0,54.1 L319.0,54.1 L318.0,54.1 L317.0,54.1 L316.0,54.1 L315.0,54.1 L314.0,54.2 L313.0,54.3 L312.0,54.3 L311.0,54.4 L310.0,54.4 L309.0,54.5 L308.0,54.5 L307.0,54.6 L306.0,54.6 L305.0,54.7 L304.0,54.8 L303.0,54.8 L302.0,54.9 L301.0,55.0 L300.0,55.1 L299.0,55.2 L298.0,55.3 L297.0,55.4 L296.0,55.5 L295.0,55.6 L294.0,55.8 L293.0,55.9 L292.0,56.1 L291.0,56.2 L290.0,56.4 L289.0,56.6 L288.0,56.7 L287.0,56.9 L286.0,57.1 L285.0,57.3 L284.0,57.5 L283.0,57.7 L282.0,57.8 L281.0,58.0 L280.0,58.1 L279.0,58.3 L278.0,58.5 L277.0,58.6 L276.0,58.7 L275.0,58.8 L274.0,58.8 L273.0,58.8 L272.0,58.8 L271.0,58.8 L270.0,58.8 L269.0,58.8 L268.1,58.8 Z" fill="rgb(76,123,42)" fill-opacity="0.65"/>
<path d="M268.1,58.8 L269.0,58.8 L270.0,58.8 L271.0,58.8 L272.0,58.8 L273.0,58.8 L274.0,58.8 L275.0,58.8 L276.0,58.7 L277.0,58.6 L278.0,58.5 L279.0,58.3 L280.0,58.1 L281.0,58.0 L282.0,57.8 L283.0,57.7 L284.0,57.5 L285.0,57.3 L286.0,57.1 L287.0,56.9 L288.0,56.7 L289.0,56.6 L290.0,56.4 L291.0,56.2 L292.0,56.1 L293.0,55.9 L294.0,55.8 L295.0,55.6 L296.0,55.5 L297.0,55.4 L298.0,55.3 L299.0,55.2 L300.0,55.1 L301.0,55.0 L302.0,54.9 L303.0,54.8 L304.0,54.8 L305.0,54.7 L306.0,54.6 L307.0,54.6 L308.0,54.5 L309.0,54.5 L310.0,54.4 L311.0,54.4 L312.0,54.3 L313.0,54.3 L314.0,54.2 L315.0,54.1 L316.0,54.1 L317.0,54.1 L318.0,54.1 L319.0,54.2 L320.0,54.2 L321.0,54.3 L322.0,54.4 L323.0,54.5 L324.0,54.6 L325.0,54.7 L326.0,54.8 L327.0,54.9 L328.0,55.0 L329.0,55.0 L330.0,55.1 L331.0,55.1 L332.0,55.2 L333.0,55.2 L334.0,55.3 L335.0,55.4 L336.0,55.6 L337.0,55.7 L338.0,55.9 L339.0,56.2 L340.0,56.4 L341.0,56.7 L342.0,57.1 L343.0,57.5 L344.0,58.0 L345.0,58.4 L346.0,58.8 L347.0,59.3 L348.0,59.8 L349.0,60.2 L350.0,60.7 L351.0,61.2 L352.0,61.6 L353.0,62.1 L354.0,62.5 L355.0,63.0 L356.0,63.4 L357.0,63.9 L358.0,64.3 L359.0,64.8 L360.0,65.2 L361.0,65.6 L362.0,66.1 L363.0,66.5 L364.0,67.0 L365.0,67.4 L366.0,67.9 L367.0,68.4 L368.0,68.8 L369.0,69.3 L370.0,69.8 L371.0,70.2 L372.0,70.7 L373.0,71.2 L374.0,71.8 L375.0,72.3 L376.0,72.8 L377.0,73.3 L378.0,73.9 L379.0,74.4 L380.0,74.9 L381.0,75.4 L382.0,76.0 L383.0,76.5 L384.0,77.0 L385.0,77.5 L386.0,78.1 L387.0,78.6 L388.0,79.1 L389.0,79.7 L390.0,80.2 L391.0,80.7 L392.0,81.3 L393.0,81.8 L394.0,82.3 L395.0,82.8 L396.0,83.3 L397.0,83.8 L398.0,84.3 L399.0,84.8 L400.0,85.3 L401.0,85.8 L402.0,86.3 L403.0,86.8 L404.0,87.3 L405.0,87.8 L406.0,88.3 L407.0,88.8 L408.0,89.3 L409.0,89.9 L410.0,90.4 L411.0,90.9 L412.0,91.5 L413.0,92.0 L414.0,92.6 L415.0,93.2 L416.0,93.8 L417.0,94.4 L418.0,95.0 L419.0,95.6 L420.0,96.1 L421.0,96.7 L422.0,97.3 L423.0,97.9 L424.0,98.5 L425.0,99.1 L426.0,99.6 L427.0,100.2 L428.0,100.8 L429.0,101.3 L430.0,101.9 L431.0,102.4 L432.0,102.9 L433.0,103.4 L434.0,103.9 L435.0,104.4 L436.0,104.9 L437.0,105.3 L438.0,105.8 L439.0,106.2 L440.0,106.7 L441.0,107.1 L442.0,107.5 L443.0,107.9 L444.0,108.4 L445.0,108.8 L446.0,109.3 L447.0,109.7 L448.0,110.1 L449.0,110.6 L450.0,111.0 L451.0,111.5 L452.0,111.9 L453.0,112.3 L454.0,112.8 L455.0,113.2 L456.0,113.6 L457.0,114.1 L458.0,114.5 L459.0,114.9 L460.0,115.4 L461.0,115.8 L461.8,116.1" fill="none" stroke="rgb(108,122,162)"/>
<path d="M268.1,58.8 L269.0,58.8 L270.0,58.8 L271.0,58.8 L272.0,58.8 L273.0,58.8 L274.0,58.8 L275.0,58.8 L276.0,58.7 L277.0,58.6 L278.0,58.5 L279.0,58.3 L280.0,58.1 L281.0,58.0 L282.0,57.8 L283.0,57.7 L284.0,57.5 L285.0,57.3 L286.0,57.1 L287.0,56.9 L288.0,56.7 L289.0,56.6 L290.0,56.4 L291.0,56.2 L292.0,56.1 L293.0,55.9 L294.0,55.8 L295.0,55.6 L296.0,55.5 L297.0,55.4 L298.0,55.3 L299.0,55.2 L300.0,55.1 L301.0,55.0 L302.0,54.9 L303.0,54.8 L304.0,54.8 L305.0,54.7 L306.0,54.6 L307.0,54.6 L308.0,54.5 L309.0,54.5 L310.0,54.4 L311.0,54.4 L312.0,54.3 L313.0,54.3 L314.0,54.2 L315.0,54.1 L316.0,54.1 L317.0,54.1 L318.0,54.1 L319.0,54.1 L320.0,54.1 L321.0,54.2 L322.0,54.2 L323.0,54.3 L324.0,54.3 L325.0,54.3 L326.0,54.4 L327.0,54.5 L328.0,54.5 L329.0,54.6 L330.0,54.6 L331.0,54.6 L332.0,54.7 L333.0,54.7 L334.0,54.8 L335.0,54.9 L336.0,54.9 L337.0,55.0 L338.0,55.0 L339.0,55.1 L340.0,55.1 L341.0,55.2 L342.0,55.3 L343.0,55.3 L344.0,55.4 L345.0,55.4 L346.0,55.5 L347.0,55.6 L348.0,55.6 L349.0,55.7 L350.0,55.8 L351.0,55.8 L352.0,55.9 L353.0,55.9 L354.0,56.0 L355.0,56.1 L356.0,56.1 L357.0,56.2 L358.0,56.3 L359.0,56.3 L360.0,56.4 L361.0,56.5 L362.0,56.5 L363.0,56.6 L364.0,56.7 L365.0,56.7 L366.0,56.8 L367.0,56.9 L368.0,56.9 L369.0,57.0 L370.0,57.1 L371.0,57.1 L372.0,57.2 L373.0,57.3 L374.0,57.3 L375.0,57.4 L376.0,57.5 L377.0,57.5 L378.0,57.6 L379.0,57.6 L380.0,57.7 L381.0,57.8 L382.0,57.8 L383.0,57.9 L384.0,57.9 L385.0,58.0 L386.0,58.1 L387.0,58.1 L388.0,58.2 L389.0,58.3 L390.0,58.3 L391.0,58.4 L392.0,58.5 L393.0,58.5 L394.0,58.6 L395.0,58.7 L396.0,58.8 L397.0,58.9 L398.0,59.0 L399.0,59.1 L400.0,59.2 L401.0,59.3 L402.0,59.4 L403.0,59.5 L404.0,59.7 L405.0,59.8 L406.0,59.9 L407.0,60.0 L408.0,60.2 L409.0,60.3 L410.0,60.5 L411.0,60.6 L412.0,60.7 L413.0,60.9 L414.0,61.1 L415.0,61.2 L416.0,61.4 L417.0,61.6 L418.0,61.8 L419.0,61.9 L420.0,62.1 L421.0,62.3 L422.0,62.5 L423.0,62.7 L424.0,62.9 L425.0,63.1 L426.0,63.3 L427.0,63.5 L428.0,63.7 L429.0,63.9 L430.0,64.1 L431.0,64.3 L432.0,64.6 L433.0,64.8 L434.0,65.0 L435.0,65.2 L436.0,65.4 L437.0,65.7 L438.0,65.9 L439.0,66.1 L440.0,66.3 L441.0,66.5 L442.0,66.7 L443.0,66.9 L444.0,67.1 L445.0,67.3 L446.0,67.5 L447.0,67.7 L448.0,67.9 L449.0,68.1 L450.0,68.3 L451.0,68.5 L452.0,68.7 L453.0,68.9 L454.0,69.1 L455.0,69.3 L456.0,69.5 L457.0,69.7 L458.0,69.9 L459.0,70.1 L460.0,70.3 L461.0,70.5 L461.8,70.7" fill="none" stroke="rgb(84,130,70)" stroke-width="1.3"/>
</g>
<g clip-path="url(#c12)" stroke-width="1.10" stroke-linejoin="round">
<path d="M481.1,58.8 L482.0,58.8 L483.0,58.8 L484.0,58.8 L485.0,58.8 L486.0,58.8 L487.0,58.8 L488.0,58.8 L489.0,58.7 L490.0,58.6 L491.0,58.5 L492.0,58.3 L493.0,58.1 L494.0,58.0 L495.0,57.8 L496.0,57.7 L497.0,57.5 L498.0,57.3 L499.0,57.1 L500.0,56.9 L501.0,56.7 L502.0,56.6 L503.0,56.4 L504.0,56.2 L505.0,56.1 L506.0,55.9 L507.0,55.8 L508.0,55.6 L509.0,55.5 L510.0,55.4 L511.0,55.3 L512.0,55.1 L513.0,55.0 L514.0,54.9 L515.0,54.8 L516.0,54.8 L517.0,54.8 L518.0,54.8 L519.0,54.8 L520.0,54.8 L521.0,54.8 L522.0,54.9 L523.0,54.9 L524.0,54.9 L525.0,55.0 L526.0,55.1 L527.0,55.3 L528.0,55.4 L529.0,55.6 L530.0,55.8 L531.0,55.9 L532.0,56.1 L533.0,56.2 L534.0,56.3 L535.0,56.4 L536.0,56.6 L537.0,56.7 L538.0,56.8 L539.0,57.0 L540.0,57.2 L541.0,57.4 L542.0,57.7 L543.0,58.0 L544.0,58.3 L545.0,58.6 L546.0,59.0 L547.0,59.3 L548.0,59.7 L549.0,60.1 L550.0,60.5 L551.0,60.9 L552.0,61.4 L553.0,61.8 L554.0,62.3 L555.0,62.8 L556.0,63.4 L557.0,63.9 L558.0,64.4 L559.0,64.9 L560.0,65.4 L561.0,65.9 L562.0,66.4 L563.0,66.8 L564.0,67.3 L565.0,67.8 L566.0,68.3 L567.0,68.7 L568.0,69.2 L569.0,69.7 L570.0,70.2 L571.0,70.7 L572.0,71.2 L573.0,71.7 L574.0,72.2 L575.0,72.7 L576.0,73.2 L577.0,73.7 L578.0,74.2 L579.0,74.8 L580.0,75.3 L581.0,75.9 L582.0,76.4 L583.0,77.0 L584.0,77.6 L585.0,78.2 L586.0,78.8 L587.0,79.4 L588.0,80.1 L589.0,80.7 L590.0,81.3 L591.0,81.9 L592.0,82.6 L593.0,83.2 L594.0,83.9 L595.0,84.6 L596.0,85.3 L597.0,85.9 L598.0,86.6 L599.0,87.2 L600.0,87.8 L601.0,88.4 L602.0,88.9 L603.0,89.5 L604.0,90.0 L605.0,90.6 L606.0,91.1 L607.0,91.6 L608.0,92.1 L609.0,92.7 L610.0,93.2 L611.0,93.7 L612.0,94.3 L613.0,94.8 L614.0,95.4 L615.0,95.9 L616.0,96.4 L617.0,97.0 L618.0,97.5 L619.0,98.1 L620.0,98.6 L621.0,99.1 L622.0,99.7 L623.0,100.2 L624.0,100.7 L625.0,101.3 L626.0,101.8 L627.0,102.3 L628.0,102.9 L629.0,103.4 L630.0,104.0 L631.0,104.6 L632.0,105.2 L633.0,105.8 L634.0,106.4 L635.0,107.0 L636.0,107.7 L637.0,108.3 L638.0,109.1 L639.0,109.8 L640.0,110.5 L641.0,111.2 L642.0,111.9 L643.0,112.5 L644.0,113.1 L645.0,113.6 L646.0,114.0 L647.0,114.4 L648.0,114.8 L649.0,115.1 L650.0,115.5 L651.0,115.8 L652.0,116.1 L653.0,116.4 L654.0,116.7 L655.0,117.1 L656.0,117.5 L657.0,117.9 L658.0,118.2 L659.0,118.6 L660.0,119.0 L661.0,119.4 L662.0,119.9 L663.0,120.3 L664.0,120.7 L665.0,121.1 L666.0,121.5 L667.0,121.9 L668.0,122.4 L669.0,122.8 L670.0,123.2 L671.0,123.7 L672.0,124.1 L673.0,124.6 L674.0,125.0 L674.7,125.4 L674.7,159.3 L481.1,159.3 Z" fill="rgb(155,79,35)" fill-opacity="0.65"/>
<path d="M481.1,58.8 L482.0,58.8 L483.0,58.8 L484.0,58.8 L485.0,58.8 L486.0,58.8 L487.0,58.8 L488.0,58.8 L489.0,58.7 L490.0,58.6 L491.0,58.5 L492.0,58.3 L493.0,58.1 L494.0,58.0 L495.0,57.8 L496.0,57.7 L497.0,57.5 L498.0,57.3 L499.0,57.1 L500.0,56.9 L501.0,56.7 L502.0,56.6 L503.0,56.4 L504.0,56.2 L505.0,56.1 L506.0,55.9 L507.0,55.8 L508.0,55.6 L509.0,55.5 L510.0,55.4 L511.0,55.3 L512.0,55.1 L513.0,55.0 L514.0,54.9 L515.0,54.8 L516.0,54.8 L517.0,54.8 L518.0,54.8 L519.0,54.7 L520.0,54.7 L521.0,54.7 L522.0,54.7 L523.0,54.7 L524.0,54.7 L525.0,54.7 L526.0,54.8 L527.0,55.0 L528.0,55.2 L529.0,55.3 L530.0,55.5 L531.0,55.6 L532.0,55.8 L533.0,55.9 L534.0,56.0 L535.0,56.1 L536.0,56.3 L537.0,56.4 L538.0,56.6 L539.0,56.7 L540.0,56.9 L541.0,57.1 L542.0,57.3 L543.0,57.6 L544.0,57.9 L545.0,58.2 L546.0,58.5 L547.0,58.8 L548.0,59.1 L549.0,59.5 L550.0,59.8 L551.0,60.1 L552.0,60.5 L553.0,60.8 L554.0,61.2 L555.0,61.6 L556.0,62.0 L557.0,62.4 L558.0,62.7 L559.0,63.1 L560.0,63.5 L561.0,63.9 L562.0,64.2 L563.0,64.6 L564.0,65.0 L565.0,65.3 L566.0,65.7 L567.0,66.1 L568.0,66.4 L569.0,66.8 L570.0,67.2 L571.0,67.6 L572.0,68.0 L573.0,68.4 L574.0,68.8 L575.0,69.2 L576.0,69.6 L577.0,70.0 L578.0,70.4 L579.0,70.8 L580.0,71.2 L581.0,71.6 L582.0,72.0 L583.0,72.4 L584.0,72.9 L585.0,73.3 L586.0,73.7 L587.0,74.1 L588.0,74.6 L589.0,75.0 L590.0,75.4 L591.0,75.8 L592.0,76.2 L593.0,76.7 L594.0,77.1 L595.0,77.5 L596.0,77.9 L597.0,78.3 L598.0,78.8 L599.0,79.2 L600.0,79.6 L601.0,80.0 L602.0,80.5 L603.0,80.9 L604.0,81.3 L605.0,81.7 L606.0,82.2 L607.0,82.6 L608.0,83.0 L609.0,83.5 L610.0,83.9 L611.0,84.3 L612.0,84.8 L613.0,85.2 L614.0,85.6 L615.0,86.1 L616.0,86.5 L617.0,86.9 L618.0,87.3 L619.0,87.8 L620.0,88.2 L621.0,88.6 L622.0,89.0 L623.0,89.4 L624.0,89.8 L625.0,90.2 L626.0,90.7 L627.0,91.1 L628.0,91.5 L629.0,91.9 L630.0,92.4 L631.0,92.9 L632.0,93.4 L633.0,93.9 L634.0,94.4 L635.0,95.0 L636.0,95.5 L637.0,96.1 L638.0,96.6 L639.0,97.2 L640.0,97.9 L641.0,98.5 L642.0,99.0 L643.0,99.6 L644.0,100.1 L645.0,100.5 L646.0,100.9 L647.0,101.2 L648.0,101.5 L649.0,101.8 L650.0,102.1 L651.0,102.4 L652.0,102.6 L653.0,102.9 L654.0,103.2 L655.0,103.5 L656.0,103.8 L657.0,104.2 L658.0,104.5 L659.0,104.8 L660.0,105.2 L661.0,105.5 L662.0,105.9 L663.0,106.3 L664.0,106.6 L665.0,107.0 L666.0,107.4 L667.0,107.8 L668.0,108.2 L669.0,108.6 L670.0,109.0 L671.0,109.4 L672.0,109.8 L673.0,110.2 L674.0,110.7 L674.7,111.0 L674.7,125.4 L674.0,125.0 L673.0,124.6 L672.0,124.1 L671.0,123.7 L670.0,123.2 L669.0,122.8 L668.0,122.4 L667.0,121.9 L666.0,121.5 L665.0,121.1 L664.0,120.7 L663.0,120.3 L662.0,119.9 L661.0,119.4 L660.0,119.0 L659.0,118.6 L658.0,118.2 L657.0,117.9 L656.0,117.5 L655.0,117.1 L654.0,116.7 L653.0,116.4 L652.0,116.1 L651.0,115.8 L650.0,115.5 L649.0,115.1 L648.0,114.8 L647.0,114.4 L646.0,114.0 L645.0,113.6 L644.0,113.1 L643.0,112.5 L642.0,111.9 L641.0,111.2 L640.0,110.5 L639.0,109.8 L638.0,109.1 L637.0,108.3 L636.0,107.7 L635.0,107.0 L634.0,106.4 L633.0,105.8 L632.0,105.2 L631.0,104.6 L630.0,104.0 L629.0,103.4 L628.0,102.9 L627.0,102.3 L626.0,101.8 L625.0,101.3 L624.0,100.7 L623.0,100.2 L622.0,99.7 L621.0,99.1 L620.0,98.6 L619.0,98.1 L618.0,97.5 L617.0,97.0 L616.0,96.4 L615.0,95.9 L614.0,95.4 L613.0,94.8 L612.0,94.3 L611.0,93.7 L610.0,93.2 L609.0,92.7 L608.0,92.1 L607.0,91.6 L606.0,91.1 L605.0,90.6 L604.0,90.0 L603.0,89.5 L602.0,88.9 L601.0,88.4 L600.0,87.8 L599.0,87.2 L598.0,86.6 L597.0,85.9 L596.0,85.3 L595.0,84.6 L594.0,83.9 L593.0,83.2 L592.0,82.6 L591.0,81.9 L590.0,81.3 L589.0,80.7 L588.0,80.1 L587.0,79.4 L586.0,78.8 L585.0,78.2 L584.0,77.6 L583.0,77.0 L582.0,76.4 L581.0,75.9 L580.0,75.3 L579.0,74.8 L578.0,74.2 L577.0,73.7 L576.0,73.2 L575.0,72.7 L574.0,72.2 L573.0,71.7 L572.0,71.2 L571.0,70.7 L570.0,70.2 L569.0,69.7 L568.0,69.2 L567.0,68.7 L566.0,68.3 L565.0,67.8 L564.0,67.3 L563.0,66.8 L562.0,66.4 L561.0,65.9 L560.0,65.4 L559.0,64.9 L558.0,64.4 L557.0,63.9 L556.0,63.4 L555.0,62.8 L554.0,62.3 L553.0,61.8 L552.0,61.4 L551.0,60.9 L550.0,60.5 L549.0,60.1 L548.0,59.7 L547.0,59.3 L546.0,59.0 L545.0,58.6 L544.0,58.3 L543.0,58.0 L542.0,57.7 L541.0,57.4 L540.0,57.2 L539.0,57.0 L538.0,56.8 L537.0,56.7 L536.0,56.6 L535.0,56.4 L534.0,56.3 L533.0,56.2 L532.0,56.1 L531.0,55.9 L530.0,55.8 L529.0,55.6 L528.0,55.4 L527.0,55.3 L526.0,55.1 L525.0,55.0 L524.0,54.9 L523.0,54.9 L522.0,54.9 L521.0,54.8 L520.0,54.8 L519.0,54.8 L518.0,54.8 L517.0,54.8 L516.0,54.8 L515.0,54.8 L514.0,54.9 L513.0,55.0 L512.0,55.1 L511.0,55.3 L510.0,55.4 L509.0,55.5 L508.0,55.6 L507.0,55.8 L506.0,55.9 L505.0,56.1 L504.0,56.2 L503.0,56.4 L502.0,56.6 L501.0,56.7 L500.0,56.9 L499.0,57.1 L498.0,57.3 L497.0,57.5 L496.0,57.7 L495.0,57.8 L494.0,58.0 L493.0,58.1 L492.0,58.3 L491.0,58.5 L490.0,58.6 L489.0,58.7 L488.0,58.8 L487.0,58.8 L486.0,58.8 L485.0,58.8 L484.0,58.8 L483.0,58.8 L482.0,58.8 L481.1,58.8 Z" fill="rgb(76,121,180)" fill-opacity="0.65"/>
<path d="M481.1,58.8 L482.0,58.8 L483.0,58.8 L484.0,58.8 L485.0,58.8 L486.0,58.8 L487.0,58.8 L488.0,58.8 L489.0,58.7 L490.0,58.6 L491.0,58.5 L492.0,58.3 L493.0,58.1 L494.0,58.0 L495.0,57.8 L496.0,57.7 L497.0,57.5 L498.0,57.3 L499.0,57.1 L500.0,56.9 L501.0,56.7 L502.0,56.6 L503.0,56.4 L504.0,56.2 L505.0,56.1 L506.0,55.9 L507.0,55.8 L508.0,55.6 L509.0,55.5 L510.0,55.4 L511.0,55.3 L512.0,55.1 L513.0,55.0 L514.0,54.9 L515.0,54.8 L516.0,54.8 L517.0,54.8 L518.0,54.7 L519.0,54.7 L520.0,54.6 L521.0,54.6 L522.0,54.6 L523.0,54.5 L524.0,54.5 L525.0,54.5 L526.0,54.4 L527.0,54.4 L528.0,54.3 L529.0,54.3 L530.0,54.2 L531.0,54.2 L532.0,54.2 L533.0,54.1 L534.0,54.1 L535.0,54.0 L536.0,54.0 L537.0,53.9 L538.0,53.9 L539.0,53.8 L540.0,53.8 L541.0,53.8 L542.0,53.7 L543.0,53.7 L544.0,53.6 L545.0,53.6 L546.0,53.5 L547.0,53.5 L548.0,53.5 L549.0,53.4 L550.0,53.4 L551.0,53.3 L552.0,53.3 L553.0,53.2 L554.0,53.2 L555.0,53.2 L556.0,53.1 L557.0,53.1 L558.0,53.0 L559.0,53.0 L560.0,52.9 L561.0,52.8 L562.0,52.8 L563.0,52.7 L564.0,52.6 L565.0,52.6 L566.0,52.5 L567.0,52.4 L568.0,52.4 L569.0,52.3 L570.0,52.2 L571.0,52.1 L572.0,52.0 L573.0,52.0 L574.0,51.9 L575.0,51.8 L576.0,51.8 L577.0,51.7 L578.0,51.6 L579.0,51.6 L580.0,51.5 L581.0,51.4 L582.0,51.4 L583.0,51.3 L584.0,51.3 L585.0,51.2 L586.0,51.2 L587.0,51.1 L588.0,51.1 L589.0,51.1 L590.0,51.0 L591.0,51.0 L592.0,50.9 L593.0,50.9 L594.0,50.8 L595.0,50.8 L596.0,50.8 L597.0,50.7 L598.0,50.7 L599.0,50.6 L600.0,50.6 L601.0,50.6 L602.0,50.5 L603.0,50.5 L604.0,50.5 L605.0,50.4 L606.0,50.4 L607.0,50.4 L608.0,50.3 L609.0,50.3 L610.0,50.3 L611.0,50.2 L612.0,50.2 L613.0,50.2 L614.0,50.1 L615.0,50.1 L616.0,50.1 L617.0,50.0 L618.0,50.0 L619.0,50.0 L620.0,50.0 L621.0,49.9 L622.0,49.9 L623.0,49.9 L624.0,49.8 L625.0,49.8 L626.0,49.8 L627.0,49.7 L628.0,49.7 L629.0,49.7 L630.0,49.6 L631.0,49.6 L632.0,49.6 L633.0,49.5 L634.0,49.5 L635.0,49.4 L636.0,49.4 L637.0,49.4 L638.0,49.3 L639.0,49.3 L640.0,49.3 L641.0,49.2 L642.0,49.2 L643.0,49.2 L644.0,49.1 L645.0,49.1 L646.0,49.1 L647.0,49.1 L648.0,49.0 L649.0,49.0 L650.0,49.0 L651.0,49.0 L652.0,49.0 L653.0,48.9 L654.0,48.9 L655.0,48.9 L656.0,48.9 L657.0,48.9 L658.0,48.9 L659.0,48.9 L660.0,48.8 L661.0,48.8 L662.0,48.8 L663.0,48.8 L664.0,48.8 L665.0,48.8 L666.0,48.8 L667.0,48.7 L668.0,48.7 L669.0,48.7 L670.0,48.7 L671.0,48.7 L672.0,48.7 L673.0,48.7 L674.0,48.7 L674.7,48.7 L674.7,111.0 L674.0,110.7 L673.0,110.2 L672.0,109.8 L671.0,109.4 L670.0,109.0 L669.0,108.6 L668.0,108.2 L667.0,107.8 L666.0,107.4 L665.0,107.0 L664.0,106.6 L663.0,106.3 L662.0,105.9 L661.0,105.5 L660.0,105.2 L659.0,104.8 L658.0,104.5 L657.0,104.2 L656.0,103.8 L655.0,103.5 L654.0,103.2 L653.0,102.9 L652.0,102.6 L651.0,102.4 L650.0,102.1 L649.0,101.8 L648.0,101.5 L647.0,101.2 L646.0,100.9 L645.0,100.5 L644.0,100.1 L643.0,99.6 L642.0,99.0 L641.0,98.5 L640.0,97.9 L639.0,97.2 L638.0,96.6 L637.0,96.1 L636.0,95.5 L635.0,95.0 L634.0,94.4 L633.0,93.9 L632.0,93.4 L631.0,92.9 L630.0,92.4 L629.0,91.9 L628.0,91.5 L627.0,91.1 L626.0,90.7 L625.0,90.2 L624.0,89.8 L623.0,89.4 L622.0,89.0 L621.0,88.6 L620.0,88.2 L619.0,87.8 L618.0,87.3 L617.0,86.9 L616.0,86.5 L615.0,86.1 L614.0,85.6 L613.0,85.2 L612.0,84.8 L611.0,84.3 L610.0,83.9 L609.0,83.5 L608.0,83.0 L607.0,82.6 L606.0,82.2 L605.0,81.7 L604.0,81.3 L603.0,80.9 L602.0,80.5 L601.0,80.0 L600.0,79.6 L599.0,79.2 L598.0,78.8 L597.0,78.3 L596.0,77.9 L595.0,77.5 L594.0,77.1 L593.0,76.7 L592.0,76.2 L591.0,75.8 L590.0,75.4 L589.0,75.0 L588.0,74.6 L587.0,74.1 L586.0,73.7 L585.0,73.3 L584.0,72.9 L583.0,72.4 L582.0,72.0 L581.0,71.6 L580.0,71.2 L579.0,70.8 L578.0,70.4 L577.0,70.0 L576.0,69.6 L575.0,69.2 L574.0,68.8 L573.0,68.4 L572.0,68.0 L571.0,67.6 L570.0,67.2 L569.0,66.8 L568.0,66.4 L567.0,66.1 L566.0,65.7 L565.0,65.3 L564.0,65.0 L563.0,64.6 L562.0,64.2 L561.0,63.9 L560.0,63.5 L559.0,63.1 L558.0,62.7 L557.0,62.4 L556.0,62.0 L555.0,61.6 L554.0,61.2 L553.0,60.8 L552.0,60.5 L551.0,60.1 L550.0,59.8 L549.0,59.5 L548.0,59.1 L547.0,58.8 L546.0,58.5 L545.0,58.2 L544.0,57.9 L543.0,57.6 L542.0,57.3 L541.0,57.1 L540.0,56.9 L539.0,56.7 L538.0,56.6 L537.0,56.4 L536.0,56.3 L535.0,56.1 L534.0,56.0 L533.0,55.9 L532.0,55.8 L531.0,55.6 L530.0,55.5 L529.0,55.3 L528.0,55.2 L527.0,55.0 L526.0,54.8 L525.0,54.7 L524.0,54.7 L523.0,54.7 L522.0,54.7 L521.0,54.7 L520.0,54.7 L519.0,54.7 L518.0,54.8 L517.0,54.8 L516.0,54.8 L515.0,54.8 L514.0,54.9 L513.0,55.0 L512.0,55.1 L511.0,55.3 L510.0,55.4 L509.0,55.5 L508.0,55.6 L507.0,55.8 L506.0,55.9 L505.0,56.1 L504.0,56.2 L503.0,56.4 L502.0,56.6 L501.0,56.7 L500.0,56.9 L499.0,57.1 L498.0,57.3 L497.0,57.5 L496.0,57.7 L495.0,57.8 L494.0,58.0 L493.0,58.1 L492.0,58.3 L491.0,58.5 L490.0,58.6 L489.0,58.7 L488.0,58.8 L487.0,58.8 L486.0,58.8 L485.0,58.8 L484.0,58.8 L483.0,58.8 L482.0,58.8 L481.1,58.8 Z" fill="rgb(76,123,42)" fill-opacity="0.65"/>
<path d="M481.1,58.8 L482.0,58.8 L483.0,58.8 L484.0,58.8 L485.0,58.8 L486.0,58.8 L487.0,58.8 L488.0,58.8 L489.0,58.7 L490.0,58.6 L491.0,58.5 L492.0,58.3 L493.0,58.1 L494.0,58.0 L495.0,57.8 L496.0,57.7 L497.0,57.5 L498.0,57.3 L499.0,57.1 L500.0,56.9 L501.0,56.7 L502.0,56.6 L503.0,56.4 L504.0,56.2 L505.0,56.1 L506.0,55.9 L507.0,55.8 L508.0,55.6 L509.0,55.5 L510.0,55.4 L511.0,55.3 L512.0,55.1 L513.0,55.0 L514.0,54.9 L515.0,54.8 L516.0,54.8 L517.0,54.8 L518.0,54.8 L519.0,54.8 L520.0,54.8 L521.0,54.8 L522.0,54.9 L523.0,54.9 L524.0,54.9 L525.0,55.0 L526.0,55.1 L527.0,55.3 L528.0,55.4 L529.0,55.6 L530.0,55.8 L531.0,55.9 L532.0,56.1 L533.0,56.2 L534.0,56.3 L535.0,56.4 L536.0,56.6 L537.0,56.7 L538.0,56.8 L539.0,57.0 L540.0,57.2 L541.0,57.4 L542.0,57.7 L543.0,58.0 L544.0,58.3 L545.0,58.6 L546.0,59.0 L547.0,59.3 L548.0,59.7 L549.0,60.1 L550.0,60.5 L551.0,60.9 L552.0,61.4 L553.0,61.8 L554.0,62.3 L555.0,62.8 L556.0,63.4 L557.0,63.9 L558.0,64.4 L559.0,64.9 L560.0,65.4 L561.0,65.9 L562.0,66.4 L563.0,66.8 L564.0,67.3 L565.0,67.8 L566.0,68.3 L567.0,68.7 L568.0,69.2 L569.0,69.7 L570.0,70.2 L571.0,70.7 L572.0,71.2 L573.0,71.7 L574.0,72.2 L575.0,72.7 L576.0,73.2 L577.0,73.7 L578.0,74.2 L579.0,74.8 L580.0,75.3 L581.0,75.9 L582.0,76.4 L583.0,77.0 L584.0,77.6 L585.0,78.2 L586.0,78.8 L587.0,79.4 L588.0,80.1 L589.0,80.7 L590.0,81.3 L591.0,81.9 L592.0,82.6 L593.0,83.2 L594.0,83.9 L595.0,84.6 L596.0,85.3 L597.0,85.9 L598.0,86.6 L599.0,87.2 L600.0,87.8 L601.0,88.4 L602.0,88.9 L603.0,89.5 L604.0,90.0 L605.0,90.6 L606.0,91.1 L607.0,91.6 L608.0,92.1 L609.0,92.7 L610.0,93.2 L611.0,93.7 L612.0,94.3 L613.0,94.8 L614.0,95.4 L615.0,95.9 L616.0,96.4 L617.0,97.0 L618.0,97.5 L619.0,98.1 L620.0,98.6 L621.0,99.1 L622.0,99.7 L623.0,100.2 L624.0,100.7 L625.0,101.3 L626.0,101.8 L627.0,102.3 L628.0,102.9 L629.0,103.4 L630.0,104.0 L631.0,104.6 L632.0,105.2 L633.0,105.8 L634.0,106.4 L635.0,107.0 L636.0,107.7 L637.0,108.3 L638.0,109.1 L639.0,109.8 L640.0,110.5 L641.0,111.2 L642.0,111.9 L643.0,112.5 L644.0,113.1 L645.0,113.6 L646.0,114.0 L647.0,114.4 L648.0,114.8 L649.0,115.1 L650.0,115.5 L651.0,115.8 L652.0,116.1 L653.0,116.4 L654.0,116.7 L655.0,117.1 L656.0,117.5 L657.0,117.9 L658.0,118.2 L659.0,118.6 L660.0,119.0 L661.0,119.4 L662.0,119.9 L663.0,120.3 L664.0,120.7 L665.0,121.1 L666.0,121.5 L667.0,121.9 L668.0,122.4 L669.0,122.8 L670.0,123.2 L671.0,123.7 L672.0,124.1 L673.0,124.6 L674.0,125.0 L674.7,125.4" fill="none" stroke="rgb(108,122,162)"/>
<path d="M481.1,58.8 L482.0,58.8 L483.0,58.8 L484.0,58.8 L485.0,58.8 L486.0,58.8 L487.0,58.8 L488.0,58.8 L489.0,58.7 L490.0,58.6 L491.0,58.5 L492.0,58.3 L493.0,58.1 L494.0,58.0 L495.0,57.8 L496.0,57.7 L497.0,57.5 L498.0,57.3 L499.0,57.1 L500.0,56.9 L501.0,56.7 L502.0,56.6 L503.0,56.4 L504.0,56.2 L505.0,56.1 L506.0,55.9 L507.0,55.8 L508.0,55.6 L509.0,55.5 L510.0,55.4 L511.0,55.3 L512.0,55.1 L513.0,55.0 L514.0,54.9 L515.0,54.8 L516.0,54.8 L517.0,54.8 L518.0,54.8 L519.0,54.7 L520.0,54.7 L521.0,54.7 L522.0,54.7 L523.0,54.7 L524.0,54.7 L525.0,54.7 L526.0,54.8 L527.0,55.0 L528.0,55.2 L529.0,55.3 L530.0,55.5 L531.0,55.6 L532.0,55.8 L533.0,55.9 L534.0,56.0 L535.0,56.1 L536.0,56.3 L537.0,56.4 L538.0,56.6 L539.0,56.7 L540.0,56.9 L541.0,57.1 L542.0,57.3 L543.0,57.6 L544.0,57.9 L545.0,58.2 L546.0,58.5 L547.0,58.8 L548.0,59.1 L549.0,59.5 L550.0,59.8 L551.0,60.1 L552.0,60.5 L553.0,60.8 L554.0,61.2 L555.0,61.6 L556.0,62.0 L557.0,62.4 L558.0,62.7 L559.0,63.1 L560.0,63.5 L561.0,63.9 L562.0,64.2 L563.0,64.6 L564.0,65.0 L565.0,65.3 L566.0,65.7 L567.0,66.1 L568.0,66.4 L569.0,66.8 L570.0,67.2 L571.0,67.6 L572.0,68.0 L573.0,68.4 L574.0,68.8 L575.0,69.2 L576.0,69.6 L577.0,70.0 L578.0,70.4 L579.0,70.8 L580.0,71.2 L581.0,71.6 L582.0,72.0 L583.0,72.4 L584.0,72.9 L585.0,73.3 L586.0,73.7 L587.0,74.1 L588.0,74.6 L589.0,75.0 L590.0,75.4 L591.0,75.8 L592.0,76.2 L593.0,76.7 L594.0,77.1 L595.0,77.5 L596.0,77.9 L597.0,78.3 L598.0,78.8 L599.0,79.2 L600.0,79.6 L601.0,80.0 L602.0,80.5 L603.0,80.9 L604.0,81.3 L605.0,81.7 L606.0,82.2 L607.0,82.6 L608.0,83.0 L609.0,83.5 L610.0,83.9 L611.0,84.3 L612.0,84.8 L613.0,85.2 L614.0,85.6 L615.0,86.1 L616.0,86.5 L617.0,86.9 L618.0,87.3 L619.0,87.8 L620.0,88.2 L621.0,88.6 L622.0,89.0 L623.0,89.4 L624.0,89.8 L625.0,90.2 L626.0,90.7 L627.0,91.1 L628.0,91.5 L629.0,91.9 L630.0,92.4 L631.0,92.9 L632.0,93.4 L633.0,93.9 L634.0,94.4 L635.0,95.0 L636.0,95.5 L637.0,96.1 L638.0,96.6 L639.0,97.2 L640.0,97.9 L641.0,98.5 L642.0,99.0 L643.0,99.6 L644.0,100.1 L645.0,100.5 L646.0,100.9 L647.0,101.2 L648.0,101.5 L649.0,101.8 L650.0,102.1 L651.0,102.4 L652.0,102.6 L653.0,102.9 L654.0,103.2 L655.0,103.5 L656.0,103.8 L657.0,104.2 L658.0,104.5 L659.0,104.8 L660.0,105.2 L661.0,105.5 L662.0,105.9 L663.0,106.3 L664.0,106.6 L665.0,107.0 L666.0,107.4 L667.0,107.8 L668.0,108.2 L669.0,108.6 L670.0,109.0 L671.0,109.4 L672.0,109.8 L673.0,110.2 L674.0,110.7 L674.7,111.0" fill="none" stroke="rgb(84,130,70)" stroke-width="1.3"/>
</g>
<g clip-path="url(#c20)">
<path d="M55.18,240.92 L84.97,234.27 L99.87,232.90 L137.10,230.77 L174.34,231.79 L211.58,235.63 L248.82,243.73 L248.82,287.14 L211.58,279.89 L174.34,276.74 L137.10,275.12 L99.87,276.91 L84.97,277.84 L55.18,283.05 Z" fill="rgb(160,82,45)" fill-opacity="0.1"/>
<polyline points="55.18,240.92 84.97,234.27 99.87,232.90 137.10,230.77 174.34,231.79 211.58,235.63 248.82,243.73" fill="none" stroke="rgb(160,82,45)" stroke-width="1.90" stroke-dasharray="7.75,3.35" stroke-dashoffset="-0.9" stroke-linejoin="round"/>
<polyline points="55.18,283.05 84.97,277.84 99.87,276.91 137.10,275.12 174.34,276.74 211.58,279.89 248.82,287.14" fill="none" stroke="rgb(160,82,45)" stroke-width="1.90" stroke-linejoin="round" stroke-linecap="round"/>
</g>
<g clip-path="url(#c21)">
<path d="M268.13,241.09 L297.92,234.69 L312.82,233.07 L350.05,240.58 L387.29,266.25 L424.53,292.60 L461.77,315.62 L461.77,348.71 L424.53,327.22 L387.29,304.03 L350.05,283.98 L312.82,277.42 L297.92,278.19 L268.13,283.56 Z" fill="rgb(74,120,178)" fill-opacity="0.1"/>
<polyline points="268.13,241.09 297.92,234.69 312.82,233.07 350.05,240.58 387.29,266.25 424.53,292.60 461.77,315.62" fill="none" stroke="rgb(74,120,178)" stroke-width="1.90" stroke-dasharray="7.75,3.35" stroke-dashoffset="-0.9" stroke-linejoin="round"/>
<polyline points="268.13,283.56 297.92,278.19 312.82,277.42 350.05,283.98 387.29,304.03 424.53,327.22 461.77,348.71" fill="none" stroke="rgb(74,120,178)" stroke-width="1.90" stroke-linejoin="round" stroke-linecap="round"/>
</g>
<g clip-path="url(#c22)">
<path d="M481.08,240.92 L510.87,234.95 L525.77,234.44 L563.00,250.04 L600.24,278.02 L637.48,307.61 L674.72,329.95 L674.72,361.33 L637.48,339.59 L600.24,315.88 L563.00,292.26 L525.77,278.61 L510.87,278.27 L481.08,283.64 Z" fill="rgb(78,130,50)" fill-opacity="0.1"/>
<polyline points="481.08,240.92 510.87,234.95 525.77,234.44 563.00,250.04 600.24,278.02 637.48,307.61 674.72,329.95" fill="none" stroke="rgb(78,130,50)" stroke-width="1.90" stroke-dasharray="7.75,3.35" stroke-dashoffset="-0.9" stroke-linejoin="round"/>
<polyline points="481.08,283.64 510.87,278.27 525.77,278.61 563.00,292.26 600.24,315.88 637.48,339.59 674.72,361.33" fill="none" stroke="rgb(78,130,50)" stroke-width="1.90" stroke-linejoin="round" stroke-linecap="round"/>
</g>
<g stroke="rgb(160,82,45)" stroke-width="2.1" fill="none">
<line x1="343.00" y1="283.30" x2="411.40" y2="283.30"/>
<line x1="343.00" y1="277.50" x2="343.00" y2="289.10"/>
<line x1="411.40" y1="277.50" x2="411.40" y2="289.10"/>
</g>
<g stroke="rgb(160,82,45)" stroke-width="2.1" fill="none">
<line x1="408.00" y1="317.00" x2="461.60" y2="317.00"/>
<line x1="408.00" y1="311.20" x2="408.00" y2="322.80"/>
<line x1="461.60" y1="311.20" x2="461.60" y2="322.80"/>
</g>
<g stroke="rgb(160,82,45)" stroke-width="2.1" fill="none">
<line x1="538.20" y1="283.30" x2="606.10" y2="283.30"/>
<line x1="538.20" y1="277.50" x2="538.20" y2="289.10"/>
<line x1="606.10" y1="277.50" x2="606.10" y2="289.10"/>
</g>
<g stroke="rgb(160,82,45)" stroke-width="2.1" fill="none">
<line x1="622.70" y1="330.80" x2="674.50" y2="330.80"/>
<line x1="622.70" y1="325.00" x2="622.70" y2="336.60"/>
<line x1="674.50" y1="325.00" x2="674.50" y2="336.60"/>
</g>
<rect x="45.50" y="15.50" width="213.00" height="143.80" fill="none" stroke="#000" stroke-width="1.25"/>
<rect x="45.50" y="223.80" width="213.00" height="143.70" fill="none" stroke="#000" stroke-width="1.25"/>
<rect x="258.45" y="15.50" width="213.00" height="143.80" fill="none" stroke="#000" stroke-width="1.25"/>
<rect x="258.45" y="223.80" width="213.00" height="143.70" fill="none" stroke="#000" stroke-width="1.25"/>
<rect x="471.40" y="15.50" width="212.50" height="143.80" fill="none" stroke="#000" stroke-width="1.25"/>
<rect x="471.40" y="223.80" width="212.50" height="143.70" fill="none" stroke="#000" stroke-width="1.25"/>
<g stroke="#000" stroke-width="1"><line x1="69.53" y1="159.30" x2="69.53" y2="164.30"/><line x1="62.63" y1="367.50" x2="62.63" y2="372.50"/><line x1="105.38" y1="159.30" x2="105.38" y2="164.30"/><line x1="99.87" y1="367.50" x2="99.87" y2="372.50"/><line x1="141.24" y1="159.30" x2="141.24" y2="164.30"/><line x1="137.10" y1="367.50" x2="137.10" y2="372.50"/><line x1="177.10" y1="159.30" x2="177.10" y2="164.30"/><line x1="174.34" y1="367.50" x2="174.34" y2="372.50"/><line x1="212.96" y1="159.30" x2="212.96" y2="164.30"/><line x1="211.58" y1="367.50" x2="211.58" y2="372.50"/><line x1="248.82" y1="159.30" x2="248.82" y2="164.30"/><line x1="248.82" y1="367.50" x2="248.82" y2="372.50"/><line x1="40.50" y1="159.30" x2="45.50" y2="159.30"/><line x1="40.50" y1="134.50" x2="45.50" y2="134.50"/><line x1="40.50" y1="109.70" x2="45.50" y2="109.70"/><line x1="40.50" y1="84.90" x2="45.50" y2="84.90"/><line x1="40.50" y1="60.10" x2="45.50" y2="60.10"/><line x1="40.50" y1="35.30" x2="45.50" y2="35.30"/><line x1="40.50" y1="351.10" x2="45.50" y2="351.10"/><line x1="40.50" y1="329.78" x2="45.50" y2="329.78"/><line x1="40.50" y1="308.46" x2="45.50" y2="308.46"/><line x1="40.50" y1="287.14" x2="45.50" y2="287.14"/><line x1="40.50" y1="265.82" x2="45.50" y2="265.82"/><line x1="40.50" y1="244.50" x2="45.50" y2="244.50"/><line x1="282.48" y1="159.30" x2="282.48" y2="164.30"/><line x1="275.58" y1="367.50" x2="275.58" y2="372.50"/><line x1="318.33" y1="159.30" x2="318.33" y2="164.30"/><line x1="312.82" y1="367.50" x2="312.82" y2="372.50"/><line x1="354.19" y1="159.30" x2="354.19" y2="164.30"/><line x1="350.05" y1="367.50" x2="350.05" y2="372.50"/><line x1="390.05" y1="159.30" x2="390.05" y2="164.30"/><line x1="387.29" y1="367.50" x2="387.29" y2="372.50"/><line x1="425.91" y1="159.30" x2="425.91" y2="164.30"/><line x1="424.53" y1="367.50" x2="424.53" y2="372.50"/><line x1="461.77" y1="159.30" x2="461.77" y2="164.30"/><line x1="461.77" y1="367.50" x2="461.77" y2="372.50"/><line x1="253.45" y1="159.30" x2="258.45" y2="159.30"/><line x1="253.45" y1="134.50" x2="258.45" y2="134.50"/><line x1="253.45" y1="109.70" x2="258.45" y2="109.70"/><line x1="253.45" y1="84.90" x2="258.45" y2="84.90"/><line x1="253.45" y1="60.10" x2="258.45" y2="60.10"/><line x1="253.45" y1="35.30" x2="258.45" y2="35.30"/><line x1="253.45" y1="351.10" x2="258.45" y2="351.10"/><line x1="253.45" y1="329.78" x2="258.45" y2="329.78"/><line x1="253.45" y1="308.46" x2="258.45" y2="308.46"/><line x1="253.45" y1="287.14" x2="258.45" y2="287.14"/><line x1="253.45" y1="265.82" x2="258.45" y2="265.82"/><line x1="253.45" y1="244.50" x2="258.45" y2="244.50"/><line x1="495.43" y1="159.30" x2="495.43" y2="164.30"/><line x1="488.53" y1="367.50" x2="488.53" y2="372.50"/><line x1="531.28" y1="159.30" x2="531.28" y2="164.30"/><line x1="525.77" y1="367.50" x2="525.77" y2="372.50"/><line x1="567.14" y1="159.30" x2="567.14" y2="164.30"/><line x1="563.00" y1="367.50" x2="563.00" y2="372.50"/><line x1="603.00" y1="159.30" x2="603.00" y2="164.30"/><line x1="600.24" y1="367.50" x2="600.24" y2="372.50"/><line x1="638.86" y1="159.30" x2="638.86" y2="164.30"/><line x1="637.48" y1="367.50" x2="637.48" y2="372.50"/><line x1="674.72" y1="159.30" x2="674.72" y2="164.30"/><line x1="674.72" y1="367.50" x2="674.72" y2="372.50"/><line x1="466.40" y1="159.30" x2="471.40" y2="159.30"/><line x1="466.40" y1="134.50" x2="471.40" y2="134.50"/><line x1="466.40" y1="109.70" x2="471.40" y2="109.70"/><line x1="466.40" y1="84.90" x2="471.40" y2="84.90"/><line x1="466.40" y1="60.10" x2="471.40" y2="60.10"/><line x1="466.40" y1="35.30" x2="471.40" y2="35.30"/><line x1="466.40" y1="351.10" x2="471.40" y2="351.10"/><line x1="466.40" y1="329.78" x2="471.40" y2="329.78"/><line x1="466.40" y1="308.46" x2="471.40" y2="308.46"/><line x1="466.40" y1="287.14" x2="471.40" y2="287.14"/><line x1="466.40" y1="265.82" x2="471.40" y2="265.82"/><line x1="466.40" y1="244.50" x2="471.40" y2="244.50"/></g>
<rect x="67.00" y="21.40" width="20.6" height="7.6" fill="rgb(155,79,35)" fill-opacity="0.65" stroke="rgb(155,79,35)" stroke-opacity="0.3" stroke-width="0.6"/>
<rect x="67.00" y="35.20" width="20.6" height="7.6" fill="rgb(76,121,180)" fill-opacity="0.65" stroke="rgb(76,121,180)" stroke-opacity="0.3" stroke-width="0.6"/>
<rect x="168.50" y="21.40" width="20.6" height="7.6" fill="rgb(76,123,42)" fill-opacity="0.65" stroke="rgb(76,123,42)" stroke-opacity="0.3" stroke-width="0.6"/>
<rect x="279.95" y="21.40" width="20.6" height="7.6" fill="rgb(155,79,35)" fill-opacity="0.65" stroke="rgb(155,79,35)" stroke-opacity="0.3" stroke-width="0.6"/>
<rect x="279.95" y="35.20" width="20.6" height="7.6" fill="rgb(76,121,180)" fill-opacity="0.65" stroke="rgb(76,121,180)" stroke-opacity="0.3" stroke-width="0.6"/>
<rect x="381.45" y="21.40" width="20.6" height="7.6" fill="rgb(76,123,42)" fill-opacity="0.65" stroke="rgb(76,123,42)" stroke-opacity="0.3" stroke-width="0.6"/>
<rect x="492.90" y="21.40" width="20.6" height="7.6" fill="rgb(155,79,35)" fill-opacity="0.65" stroke="rgb(155,79,35)" stroke-opacity="0.3" stroke-width="0.6"/>
<rect x="492.90" y="35.20" width="20.6" height="7.6" fill="rgb(76,121,180)" fill-opacity="0.65" stroke="rgb(76,121,180)" stroke-opacity="0.3" stroke-width="0.6"/>
<rect x="594.40" y="21.40" width="20.6" height="7.6" fill="rgb(76,123,42)" fill-opacity="0.65" stroke="rgb(76,123,42)" stroke-opacity="0.3" stroke-width="0.6"/>
<line x1="50.80" y1="342.8" x2="72.00" y2="342.8" stroke="rgb(160,82,45)" stroke-width="1.9" stroke-dasharray="7.7,3.35"/>
<line x1="50.30" y1="356.6" x2="72.00" y2="356.6" stroke="rgb(160,82,45)" stroke-width="1.9"/>
<line x1="263.75" y1="342.8" x2="284.95" y2="342.8" stroke="rgb(74,120,178)" stroke-width="1.9" stroke-dasharray="7.7,3.35"/>
<line x1="263.25" y1="356.6" x2="284.95" y2="356.6" stroke="rgb(74,120,178)" stroke-width="1.9"/>
<line x1="476.70" y1="342.8" x2="497.90" y2="342.8" stroke="rgb(78,130,50)" stroke-width="1.9" stroke-dasharray="7.7,3.35"/>
<line x1="476.20" y1="356.6" x2="497.90" y2="356.6" stroke="rgb(78,130,50)" stroke-width="1.9"/>
<defs><filter id="gs" filterUnits="userSpaceOnUse" x="0" y="0" width="685" height="399"><feOffset dx="0" dy="0"/></filter></defs>
<g filter="url(#gs)"><text x="325.61" y="296.20" font-size="10.50" textLength="34.83" lengthAdjust="spacingAndGlyphs" fill="rgb(160,82,45)" style="stroke:none">9 years</text><text x="373.30" y="329.80" font-size="10.50" textLength="34.74" lengthAdjust="spacingAndGlyphs" fill="rgb(160,82,45)" style="stroke:none">7 years</text><text x="521.01" y="296.20" font-size="10.50" textLength="34.53" lengthAdjust="spacingAndGlyphs" fill="rgb(160,82,45)" style="stroke:none">9 years</text><text x="588.10" y="343.50" font-size="10.50" textLength="34.64" lengthAdjust="spacingAndGlyphs" fill="rgb(160,82,45)" style="stroke:none">7 years</text><text x="58.13" y="176.40" font-size="10.50" textLength="22.74" lengthAdjust="spacingAndGlyphs">2025</text><text x="51.23" y="384.70" font-size="10.50" textLength="22.74" lengthAdjust="spacingAndGlyphs">2025</text><text x="93.98" y="176.40" font-size="10.50" textLength="22.73" lengthAdjust="spacingAndGlyphs">2030</text><text x="88.47" y="384.70" font-size="10.50" textLength="22.73" lengthAdjust="spacingAndGlyphs">2030</text><text x="129.84" y="176.40" font-size="10.50" textLength="22.74" lengthAdjust="spacingAndGlyphs">2035</text><text x="125.71" y="384.70" font-size="10.50" textLength="22.74" lengthAdjust="spacingAndGlyphs">2035</text><text x="165.70" y="176.40" font-size="10.50" textLength="22.73" lengthAdjust="spacingAndGlyphs">2040</text><text x="162.94" y="384.70" font-size="10.50" textLength="22.73" lengthAdjust="spacingAndGlyphs">2040</text><text x="201.56" y="176.40" font-size="10.50" textLength="22.74" lengthAdjust="spacingAndGlyphs">2045</text><text x="200.18" y="384.70" font-size="10.50" textLength="22.74" lengthAdjust="spacingAndGlyphs">2045</text><text x="237.42" y="176.40" font-size="10.50" textLength="22.73" lengthAdjust="spacingAndGlyphs">2050</text><text x="237.42" y="384.70" font-size="10.50" textLength="22.73" lengthAdjust="spacingAndGlyphs">2050</text><text x="271.08" y="176.40" font-size="10.50" textLength="22.74" lengthAdjust="spacingAndGlyphs">2025</text><text x="264.18" y="384.70" font-size="10.50" textLength="22.74" lengthAdjust="spacingAndGlyphs">2025</text><text x="306.93" y="176.40" font-size="10.50" textLength="22.73" lengthAdjust="spacingAndGlyphs">2030</text><text x="301.42" y="384.70" font-size="10.50" textLength="22.73" lengthAdjust="spacingAndGlyphs">2030</text><text x="342.79" y="176.40" font-size="10.50" textLength="22.74" lengthAdjust="spacingAndGlyphs">2035</text><text x="338.66" y="384.70" font-size="10.50" textLength="22.74" lengthAdjust="spacingAndGlyphs">2035</text><text x="378.65" y="176.40" font-size="10.50" textLength="22.73" lengthAdjust="spacingAndGlyphs">2040</text><text x="375.89" y="384.70" font-size="10.50" textLength="22.73" lengthAdjust="spacingAndGlyphs">2040</text><text x="414.51" y="176.40" font-size="10.50" textLength="22.74" lengthAdjust="spacingAndGlyphs">2045</text><text x="413.13" y="384.70" font-size="10.50" textLength="22.74" lengthAdjust="spacingAndGlyphs">2045</text><text x="450.37" y="176.40" font-size="10.50" textLength="22.73" lengthAdjust="spacingAndGlyphs">2050</text><text x="450.37" y="384.70" font-size="10.50" textLength="22.73" lengthAdjust="spacingAndGlyphs">2050</text><text x="484.03" y="176.40" font-size="10.50" textLength="22.74" lengthAdjust="spacingAndGlyphs">2025</text><text x="477.13" y="384.70" font-size="10.50" textLength="22.74" lengthAdjust="spacingAndGlyphs">2025</text><text x="519.88" y="176.40" font-size="10.50" textLength="22.73" lengthAdjust="spacingAndGlyphs">2030</text><text x="514.37" y="384.70" font-size="10.50" textLength="22.73" lengthAdjust="spacingAndGlyphs">2030</text><text x="555.74" y="176.40" font-size="10.50" textLength="22.74" lengthAdjust="spacingAndGlyphs">2035</text><text x="551.61" y="384.70" font-size="10.50" textLength="22.74" lengthAdjust="spacingAndGlyphs">2035</text><text x="591.60" y="176.40" font-size="10.50" textLength="22.73" lengthAdjust="spacingAndGlyphs">2040</text><text x="588.84" y="384.70" font-size="10.50" textLength="22.73" lengthAdjust="spacingAndGlyphs">2040</text><text x="627.46" y="176.40" font-size="10.50" textLength="22.74" lengthAdjust="spacingAndGlyphs">2045</text><text x="626.08" y="384.70" font-size="10.50" textLength="22.74" lengthAdjust="spacingAndGlyphs">2045</text><text x="663.32" y="176.40" font-size="10.50" textLength="22.73" lengthAdjust="spacingAndGlyphs">2050</text><text x="663.32" y="384.70" font-size="10.50" textLength="22.73" lengthAdjust="spacingAndGlyphs">2050</text><text x="15.16" y="163.00" font-size="10.50" textLength="20.39" lengthAdjust="spacingAndGlyphs">0.00</text><text x="15.16" y="138.20" font-size="10.50" textLength="20.40" lengthAdjust="spacingAndGlyphs">0.25</text><text x="15.16" y="113.40" font-size="10.50" textLength="20.39" lengthAdjust="spacingAndGlyphs">0.50</text><text x="15.16" y="88.60" font-size="10.50" textLength="20.40" lengthAdjust="spacingAndGlyphs">0.75</text><text x="14.97" y="63.80" font-size="10.50" textLength="20.58" lengthAdjust="spacingAndGlyphs">1.00</text><text x="14.97" y="39.00" font-size="10.50" textLength="20.59" lengthAdjust="spacingAndGlyphs">1.25</text><text x="24.15" y="354.80" font-size="10.50" textLength="11.40" lengthAdjust="spacingAndGlyphs">75</text><text x="17.97" y="333.48" font-size="10.50" textLength="17.58" lengthAdjust="spacingAndGlyphs">100</text><text x="17.97" y="312.16" font-size="10.50" textLength="17.59" lengthAdjust="spacingAndGlyphs">125</text><text x="17.97" y="290.84" font-size="10.50" textLength="17.58" lengthAdjust="spacingAndGlyphs">150</text><text x="17.97" y="269.52" font-size="10.50" textLength="17.59" lengthAdjust="spacingAndGlyphs">175</text><text x="18.50" y="248.20" font-size="10.50" textLength="17.03" lengthAdjust="spacingAndGlyphs">200</text><text x="141.07" y="190.60" font-size="10.50" textLength="21.82" lengthAdjust="spacingAndGlyphs">Year</text><text x="141.07" y="398.90" font-size="10.50" textLength="21.82" lengthAdjust="spacingAndGlyphs">Year</text><text x="354.02" y="190.60" font-size="10.50" textLength="21.82" lengthAdjust="spacingAndGlyphs">Year</text><text x="354.02" y="398.90" font-size="10.50" textLength="21.82" lengthAdjust="spacingAndGlyphs">Year</text><text x="566.97" y="190.60" font-size="10.50" textLength="21.82" lengthAdjust="spacingAndGlyphs">Year</text><text x="566.97" y="398.90" font-size="10.50" textLength="21.82" lengthAdjust="spacingAndGlyphs">Year</text><text transform="translate(7.60,143.30) rotate(-90)" x="-0.13" y="0" font-size="10.50" textLength="110.95" lengthAdjust="spacingAndGlyphs">Vehicle Stock (million)</text><text transform="translate(11.10,353.10) rotate(-90)" x="-0.51" y="0" font-size="10.50" textLength="114.65" lengthAdjust="spacingAndGlyphs">Carbon by Trucks (Mt)</text><text x="61.77" y="7.50" font-size="10.50" textLength="179.55" lengthAdjust="spacingAndGlyphs">(a) Vehicle Stock (CONSTRAINED)</text><text x="291.18" y="7.50" font-size="10.50" textLength="146.75" lengthAdjust="spacingAndGlyphs">(b) Vehicle Stock (NORMAL)</text><text x="497.48" y="7.50" font-size="10.50" textLength="159.64" lengthAdjust="spacingAndGlyphs">(c) Vehicle Stock (ADVANCED)</text><text x="49.96" y="215.80" font-size="10.50" textLength="202.87" lengthAdjust="spacingAndGlyphs">(d) Carbon by Trucks (CONSTRAINED)</text><text x="280.37" y="215.80" font-size="10.50" textLength="168.37" lengthAdjust="spacingAndGlyphs">(e) Carbon by Trucks (NORMAL)</text><text x="486.77" y="215.80" font-size="10.50" textLength="181.26" lengthAdjust="spacingAndGlyphs">(f) Carbon by Trucks (ADVANCED)</text><text x="94.87" y="28.90" font-size="10.50" textLength="51.13" lengthAdjust="spacingAndGlyphs">ICE Truck</text><text x="94.96" y="42.50" font-size="10.50" textLength="53.54" lengthAdjust="spacingAndGlyphs">FCE-Truck</text><text x="197.06" y="28.90" font-size="10.50" textLength="38.94" lengthAdjust="spacingAndGlyphs">E-Truck</text><text x="307.82" y="28.90" font-size="10.50" textLength="51.13" lengthAdjust="spacingAndGlyphs">ICE Truck</text><text x="307.91" y="42.50" font-size="10.50" textLength="53.54" lengthAdjust="spacingAndGlyphs">FCE-Truck</text><text x="410.01" y="28.90" font-size="10.50" textLength="38.94" lengthAdjust="spacingAndGlyphs">E-Truck</text><text x="520.77" y="28.90" font-size="10.50" textLength="51.13" lengthAdjust="spacingAndGlyphs">ICE Truck</text><text x="520.86" y="42.50" font-size="10.50" textLength="53.54" lengthAdjust="spacingAndGlyphs">FCE-Truck</text><text x="622.96" y="28.90" font-size="10.50" textLength="38.94" lengthAdjust="spacingAndGlyphs">E-Truck</text><text x="78.85" y="346.80" font-size="10.50" textLength="59.06" lengthAdjust="spacingAndGlyphs">PRACTICE</text><text x="78.83" y="360.20" font-size="10.50" textLength="48.24" lengthAdjust="spacingAndGlyphs">CARBON</text><text x="291.80" y="346.80" font-size="10.50" textLength="59.06" lengthAdjust="spacingAndGlyphs">PRACTICE</text><text x="291.78" y="360.20" font-size="10.50" textLength="48.24" lengthAdjust="spacingAndGlyphs">CARBON</text><text x="504.75" y="346.80" font-size="10.50" textLength="59.06" lengthAdjust="spacingAndGlyphs">PRACTICE</text><text x="504.73" y="360.20" font-size="10.50" textLength="48.24" lengthAdjust="spacingAndGlyphs">CARBON</text></g>
</svg></body></html>
